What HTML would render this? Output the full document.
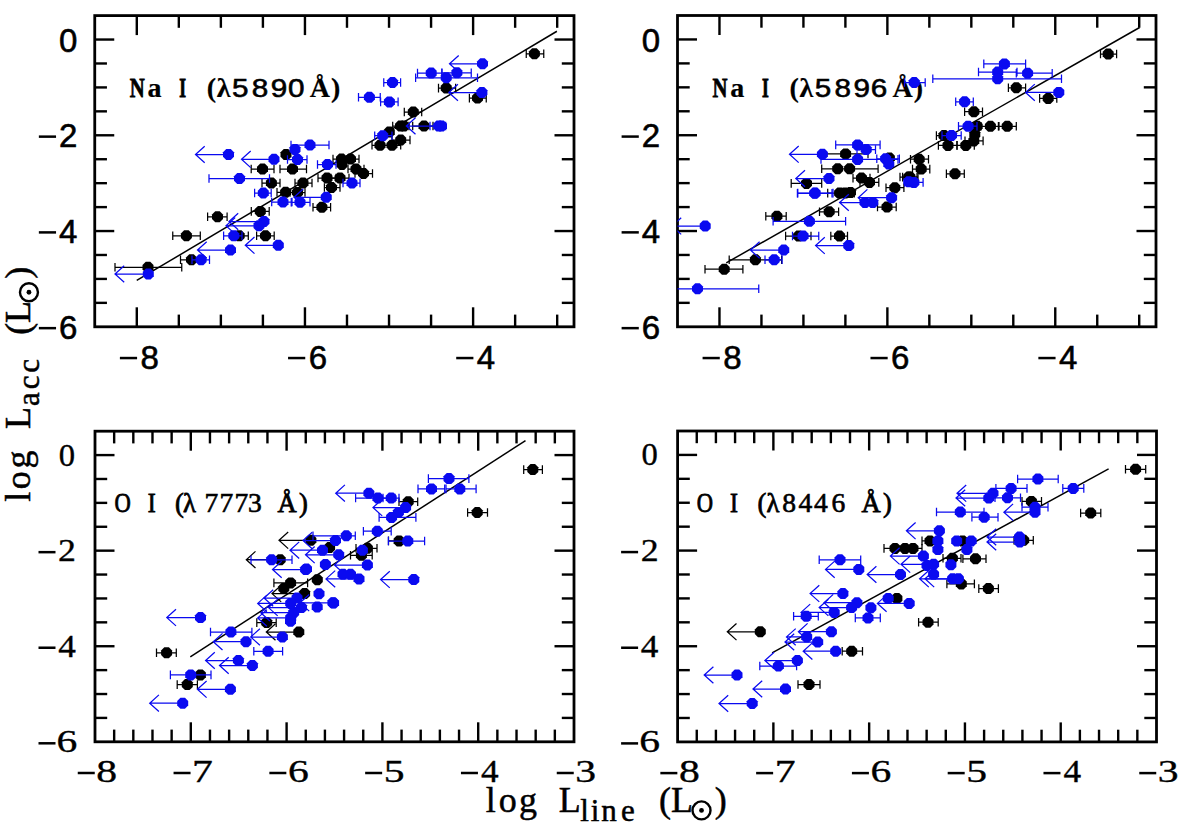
<!DOCTYPE html>
<html><head><meta charset="utf-8"><style>
html,body{margin:0;padding:0;background:#fff;}
svg{display:block;}
</style></head><body>
<svg width="1200" height="829" viewBox="0 0 1200 829">
<rect width="1200" height="829" fill="#fff"/>
<line x1="136.79" y1="326.80" x2="136.79" y2="307.30" stroke="#000" stroke-width="2.4"/>
<line x1="136.79" y1="15.60" x2="136.79" y2="35.10" stroke="#000" stroke-width="2.4"/>
<line x1="178.83" y1="326.80" x2="178.83" y2="314.60" stroke="#000" stroke-width="2.4"/>
<line x1="178.83" y1="15.60" x2="178.83" y2="27.80" stroke="#000" stroke-width="2.4"/>
<line x1="220.87" y1="326.80" x2="220.87" y2="314.60" stroke="#000" stroke-width="2.4"/>
<line x1="220.87" y1="15.60" x2="220.87" y2="27.80" stroke="#000" stroke-width="2.4"/>
<line x1="262.91" y1="326.80" x2="262.91" y2="314.60" stroke="#000" stroke-width="2.4"/>
<line x1="262.91" y1="15.60" x2="262.91" y2="27.80" stroke="#000" stroke-width="2.4"/>
<line x1="304.95" y1="326.80" x2="304.95" y2="307.30" stroke="#000" stroke-width="2.4"/>
<line x1="304.95" y1="15.60" x2="304.95" y2="35.10" stroke="#000" stroke-width="2.4"/>
<line x1="346.99" y1="326.80" x2="346.99" y2="314.60" stroke="#000" stroke-width="2.4"/>
<line x1="346.99" y1="15.60" x2="346.99" y2="27.80" stroke="#000" stroke-width="2.4"/>
<line x1="389.03" y1="326.80" x2="389.03" y2="314.60" stroke="#000" stroke-width="2.4"/>
<line x1="389.03" y1="15.60" x2="389.03" y2="27.80" stroke="#000" stroke-width="2.4"/>
<line x1="431.07" y1="326.80" x2="431.07" y2="314.60" stroke="#000" stroke-width="2.4"/>
<line x1="431.07" y1="15.60" x2="431.07" y2="27.80" stroke="#000" stroke-width="2.4"/>
<line x1="473.11" y1="326.80" x2="473.11" y2="307.30" stroke="#000" stroke-width="2.4"/>
<line x1="473.11" y1="15.60" x2="473.11" y2="35.10" stroke="#000" stroke-width="2.4"/>
<line x1="515.14" y1="326.80" x2="515.14" y2="314.60" stroke="#000" stroke-width="2.4"/>
<line x1="515.14" y1="15.60" x2="515.14" y2="27.80" stroke="#000" stroke-width="2.4"/>
<line x1="557.18" y1="326.80" x2="557.18" y2="314.60" stroke="#000" stroke-width="2.4"/>
<line x1="557.18" y1="15.60" x2="557.18" y2="27.80" stroke="#000" stroke-width="2.4"/>
<line x1="94.75" y1="39.54" x2="114.25" y2="39.54" stroke="#000" stroke-width="2.4"/>
<line x1="574.00" y1="39.54" x2="554.50" y2="39.54" stroke="#000" stroke-width="2.4"/>
<line x1="94.75" y1="63.48" x2="106.95" y2="63.48" stroke="#000" stroke-width="2.4"/>
<line x1="574.00" y1="63.48" x2="561.80" y2="63.48" stroke="#000" stroke-width="2.4"/>
<line x1="94.75" y1="87.42" x2="106.95" y2="87.42" stroke="#000" stroke-width="2.4"/>
<line x1="574.00" y1="87.42" x2="561.80" y2="87.42" stroke="#000" stroke-width="2.4"/>
<line x1="94.75" y1="111.35" x2="106.95" y2="111.35" stroke="#000" stroke-width="2.4"/>
<line x1="574.00" y1="111.35" x2="561.80" y2="111.35" stroke="#000" stroke-width="2.4"/>
<line x1="94.75" y1="135.29" x2="114.25" y2="135.29" stroke="#000" stroke-width="2.4"/>
<line x1="574.00" y1="135.29" x2="554.50" y2="135.29" stroke="#000" stroke-width="2.4"/>
<line x1="94.75" y1="159.23" x2="106.95" y2="159.23" stroke="#000" stroke-width="2.4"/>
<line x1="574.00" y1="159.23" x2="561.80" y2="159.23" stroke="#000" stroke-width="2.4"/>
<line x1="94.75" y1="183.17" x2="106.95" y2="183.17" stroke="#000" stroke-width="2.4"/>
<line x1="574.00" y1="183.17" x2="561.80" y2="183.17" stroke="#000" stroke-width="2.4"/>
<line x1="94.75" y1="207.11" x2="106.95" y2="207.11" stroke="#000" stroke-width="2.4"/>
<line x1="574.00" y1="207.11" x2="561.80" y2="207.11" stroke="#000" stroke-width="2.4"/>
<line x1="94.75" y1="231.05" x2="114.25" y2="231.05" stroke="#000" stroke-width="2.4"/>
<line x1="574.00" y1="231.05" x2="554.50" y2="231.05" stroke="#000" stroke-width="2.4"/>
<line x1="94.75" y1="254.98" x2="106.95" y2="254.98" stroke="#000" stroke-width="2.4"/>
<line x1="574.00" y1="254.98" x2="561.80" y2="254.98" stroke="#000" stroke-width="2.4"/>
<line x1="94.75" y1="278.92" x2="106.95" y2="278.92" stroke="#000" stroke-width="2.4"/>
<line x1="574.00" y1="278.92" x2="561.80" y2="278.92" stroke="#000" stroke-width="2.4"/>
<line x1="94.75" y1="302.86" x2="106.95" y2="302.86" stroke="#000" stroke-width="2.4"/>
<line x1="574.00" y1="302.86" x2="561.80" y2="302.86" stroke="#000" stroke-width="2.4"/>
<rect x="94.75" y="15.60" width="479.25" height="311.20" fill="none" stroke="#000" stroke-width="2.8"/>
<line x1="719.47" y1="326.80" x2="719.47" y2="307.30" stroke="#000" stroke-width="2.4"/>
<line x1="719.47" y1="15.50" x2="719.47" y2="35.00" stroke="#000" stroke-width="2.4"/>
<line x1="761.45" y1="326.80" x2="761.45" y2="314.60" stroke="#000" stroke-width="2.4"/>
<line x1="761.45" y1="15.50" x2="761.45" y2="27.70" stroke="#000" stroke-width="2.4"/>
<line x1="803.42" y1="326.80" x2="803.42" y2="314.60" stroke="#000" stroke-width="2.4"/>
<line x1="803.42" y1="15.50" x2="803.42" y2="27.70" stroke="#000" stroke-width="2.4"/>
<line x1="845.39" y1="326.80" x2="845.39" y2="314.60" stroke="#000" stroke-width="2.4"/>
<line x1="845.39" y1="15.50" x2="845.39" y2="27.70" stroke="#000" stroke-width="2.4"/>
<line x1="887.37" y1="326.80" x2="887.37" y2="307.30" stroke="#000" stroke-width="2.4"/>
<line x1="887.37" y1="15.50" x2="887.37" y2="35.00" stroke="#000" stroke-width="2.4"/>
<line x1="929.34" y1="326.80" x2="929.34" y2="314.60" stroke="#000" stroke-width="2.4"/>
<line x1="929.34" y1="15.50" x2="929.34" y2="27.70" stroke="#000" stroke-width="2.4"/>
<line x1="971.32" y1="326.80" x2="971.32" y2="314.60" stroke="#000" stroke-width="2.4"/>
<line x1="971.32" y1="15.50" x2="971.32" y2="27.70" stroke="#000" stroke-width="2.4"/>
<line x1="1013.29" y1="326.80" x2="1013.29" y2="314.60" stroke="#000" stroke-width="2.4"/>
<line x1="1013.29" y1="15.50" x2="1013.29" y2="27.70" stroke="#000" stroke-width="2.4"/>
<line x1="1055.26" y1="326.80" x2="1055.26" y2="307.30" stroke="#000" stroke-width="2.4"/>
<line x1="1055.26" y1="15.50" x2="1055.26" y2="35.00" stroke="#000" stroke-width="2.4"/>
<line x1="1097.24" y1="326.80" x2="1097.24" y2="314.60" stroke="#000" stroke-width="2.4"/>
<line x1="1097.24" y1="15.50" x2="1097.24" y2="27.70" stroke="#000" stroke-width="2.4"/>
<line x1="1139.21" y1="326.80" x2="1139.21" y2="314.60" stroke="#000" stroke-width="2.4"/>
<line x1="1139.21" y1="15.50" x2="1139.21" y2="27.70" stroke="#000" stroke-width="2.4"/>
<line x1="677.50" y1="39.45" x2="697.00" y2="39.45" stroke="#000" stroke-width="2.4"/>
<line x1="1156.00" y1="39.45" x2="1136.50" y2="39.45" stroke="#000" stroke-width="2.4"/>
<line x1="677.50" y1="63.39" x2="689.70" y2="63.39" stroke="#000" stroke-width="2.4"/>
<line x1="1156.00" y1="63.39" x2="1143.80" y2="63.39" stroke="#000" stroke-width="2.4"/>
<line x1="677.50" y1="87.34" x2="689.70" y2="87.34" stroke="#000" stroke-width="2.4"/>
<line x1="1156.00" y1="87.34" x2="1143.80" y2="87.34" stroke="#000" stroke-width="2.4"/>
<line x1="677.50" y1="111.28" x2="689.70" y2="111.28" stroke="#000" stroke-width="2.4"/>
<line x1="1156.00" y1="111.28" x2="1143.80" y2="111.28" stroke="#000" stroke-width="2.4"/>
<line x1="677.50" y1="135.23" x2="697.00" y2="135.23" stroke="#000" stroke-width="2.4"/>
<line x1="1156.00" y1="135.23" x2="1136.50" y2="135.23" stroke="#000" stroke-width="2.4"/>
<line x1="677.50" y1="159.18" x2="689.70" y2="159.18" stroke="#000" stroke-width="2.4"/>
<line x1="1156.00" y1="159.18" x2="1143.80" y2="159.18" stroke="#000" stroke-width="2.4"/>
<line x1="677.50" y1="183.12" x2="689.70" y2="183.12" stroke="#000" stroke-width="2.4"/>
<line x1="1156.00" y1="183.12" x2="1143.80" y2="183.12" stroke="#000" stroke-width="2.4"/>
<line x1="677.50" y1="207.07" x2="689.70" y2="207.07" stroke="#000" stroke-width="2.4"/>
<line x1="1156.00" y1="207.07" x2="1143.80" y2="207.07" stroke="#000" stroke-width="2.4"/>
<line x1="677.50" y1="231.02" x2="697.00" y2="231.02" stroke="#000" stroke-width="2.4"/>
<line x1="1156.00" y1="231.02" x2="1136.50" y2="231.02" stroke="#000" stroke-width="2.4"/>
<line x1="677.50" y1="254.96" x2="689.70" y2="254.96" stroke="#000" stroke-width="2.4"/>
<line x1="1156.00" y1="254.96" x2="1143.80" y2="254.96" stroke="#000" stroke-width="2.4"/>
<line x1="677.50" y1="278.91" x2="689.70" y2="278.91" stroke="#000" stroke-width="2.4"/>
<line x1="1156.00" y1="278.91" x2="1143.80" y2="278.91" stroke="#000" stroke-width="2.4"/>
<line x1="677.50" y1="302.85" x2="689.70" y2="302.85" stroke="#000" stroke-width="2.4"/>
<line x1="1156.00" y1="302.85" x2="1143.80" y2="302.85" stroke="#000" stroke-width="2.4"/>
<rect x="677.50" y="15.50" width="478.50" height="311.30" fill="none" stroke="#000" stroke-width="2.8"/>
<line x1="114.16" y1="741.80" x2="114.16" y2="729.60" stroke="#000" stroke-width="2.4"/>
<line x1="114.16" y1="431.20" x2="114.16" y2="443.40" stroke="#000" stroke-width="2.4"/>
<line x1="133.32" y1="741.80" x2="133.32" y2="729.60" stroke="#000" stroke-width="2.4"/>
<line x1="133.32" y1="431.20" x2="133.32" y2="443.40" stroke="#000" stroke-width="2.4"/>
<line x1="152.48" y1="741.80" x2="152.48" y2="729.60" stroke="#000" stroke-width="2.4"/>
<line x1="152.48" y1="431.20" x2="152.48" y2="443.40" stroke="#000" stroke-width="2.4"/>
<line x1="171.64" y1="741.80" x2="171.64" y2="729.60" stroke="#000" stroke-width="2.4"/>
<line x1="171.64" y1="431.20" x2="171.64" y2="443.40" stroke="#000" stroke-width="2.4"/>
<line x1="190.80" y1="741.80" x2="190.80" y2="722.30" stroke="#000" stroke-width="2.4"/>
<line x1="190.80" y1="431.20" x2="190.80" y2="450.70" stroke="#000" stroke-width="2.4"/>
<line x1="209.96" y1="741.80" x2="209.96" y2="729.60" stroke="#000" stroke-width="2.4"/>
<line x1="209.96" y1="431.20" x2="209.96" y2="443.40" stroke="#000" stroke-width="2.4"/>
<line x1="229.12" y1="741.80" x2="229.12" y2="729.60" stroke="#000" stroke-width="2.4"/>
<line x1="229.12" y1="431.20" x2="229.12" y2="443.40" stroke="#000" stroke-width="2.4"/>
<line x1="248.28" y1="741.80" x2="248.28" y2="729.60" stroke="#000" stroke-width="2.4"/>
<line x1="248.28" y1="431.20" x2="248.28" y2="443.40" stroke="#000" stroke-width="2.4"/>
<line x1="267.44" y1="741.80" x2="267.44" y2="729.60" stroke="#000" stroke-width="2.4"/>
<line x1="267.44" y1="431.20" x2="267.44" y2="443.40" stroke="#000" stroke-width="2.4"/>
<line x1="286.60" y1="741.80" x2="286.60" y2="722.30" stroke="#000" stroke-width="2.4"/>
<line x1="286.60" y1="431.20" x2="286.60" y2="450.70" stroke="#000" stroke-width="2.4"/>
<line x1="305.76" y1="741.80" x2="305.76" y2="729.60" stroke="#000" stroke-width="2.4"/>
<line x1="305.76" y1="431.20" x2="305.76" y2="443.40" stroke="#000" stroke-width="2.4"/>
<line x1="324.92" y1="741.80" x2="324.92" y2="729.60" stroke="#000" stroke-width="2.4"/>
<line x1="324.92" y1="431.20" x2="324.92" y2="443.40" stroke="#000" stroke-width="2.4"/>
<line x1="344.08" y1="741.80" x2="344.08" y2="729.60" stroke="#000" stroke-width="2.4"/>
<line x1="344.08" y1="431.20" x2="344.08" y2="443.40" stroke="#000" stroke-width="2.4"/>
<line x1="363.24" y1="741.80" x2="363.24" y2="729.60" stroke="#000" stroke-width="2.4"/>
<line x1="363.24" y1="431.20" x2="363.24" y2="443.40" stroke="#000" stroke-width="2.4"/>
<line x1="382.40" y1="741.80" x2="382.40" y2="722.30" stroke="#000" stroke-width="2.4"/>
<line x1="382.40" y1="431.20" x2="382.40" y2="450.70" stroke="#000" stroke-width="2.4"/>
<line x1="401.56" y1="741.80" x2="401.56" y2="729.60" stroke="#000" stroke-width="2.4"/>
<line x1="401.56" y1="431.20" x2="401.56" y2="443.40" stroke="#000" stroke-width="2.4"/>
<line x1="420.72" y1="741.80" x2="420.72" y2="729.60" stroke="#000" stroke-width="2.4"/>
<line x1="420.72" y1="431.20" x2="420.72" y2="443.40" stroke="#000" stroke-width="2.4"/>
<line x1="439.88" y1="741.80" x2="439.88" y2="729.60" stroke="#000" stroke-width="2.4"/>
<line x1="439.88" y1="431.20" x2="439.88" y2="443.40" stroke="#000" stroke-width="2.4"/>
<line x1="459.04" y1="741.80" x2="459.04" y2="729.60" stroke="#000" stroke-width="2.4"/>
<line x1="459.04" y1="431.20" x2="459.04" y2="443.40" stroke="#000" stroke-width="2.4"/>
<line x1="478.20" y1="741.80" x2="478.20" y2="722.30" stroke="#000" stroke-width="2.4"/>
<line x1="478.20" y1="431.20" x2="478.20" y2="450.70" stroke="#000" stroke-width="2.4"/>
<line x1="497.36" y1="741.80" x2="497.36" y2="729.60" stroke="#000" stroke-width="2.4"/>
<line x1="497.36" y1="431.20" x2="497.36" y2="443.40" stroke="#000" stroke-width="2.4"/>
<line x1="516.52" y1="741.80" x2="516.52" y2="729.60" stroke="#000" stroke-width="2.4"/>
<line x1="516.52" y1="431.20" x2="516.52" y2="443.40" stroke="#000" stroke-width="2.4"/>
<line x1="535.68" y1="741.80" x2="535.68" y2="729.60" stroke="#000" stroke-width="2.4"/>
<line x1="535.68" y1="431.20" x2="535.68" y2="443.40" stroke="#000" stroke-width="2.4"/>
<line x1="554.84" y1="741.80" x2="554.84" y2="729.60" stroke="#000" stroke-width="2.4"/>
<line x1="554.84" y1="431.20" x2="554.84" y2="443.40" stroke="#000" stroke-width="2.4"/>
<line x1="95.00" y1="455.09" x2="114.50" y2="455.09" stroke="#000" stroke-width="2.4"/>
<line x1="574.00" y1="455.09" x2="554.50" y2="455.09" stroke="#000" stroke-width="2.4"/>
<line x1="95.00" y1="478.98" x2="107.20" y2="478.98" stroke="#000" stroke-width="2.4"/>
<line x1="574.00" y1="478.98" x2="561.80" y2="478.98" stroke="#000" stroke-width="2.4"/>
<line x1="95.00" y1="502.88" x2="107.20" y2="502.88" stroke="#000" stroke-width="2.4"/>
<line x1="574.00" y1="502.88" x2="561.80" y2="502.88" stroke="#000" stroke-width="2.4"/>
<line x1="95.00" y1="526.77" x2="107.20" y2="526.77" stroke="#000" stroke-width="2.4"/>
<line x1="574.00" y1="526.77" x2="561.80" y2="526.77" stroke="#000" stroke-width="2.4"/>
<line x1="95.00" y1="550.66" x2="114.50" y2="550.66" stroke="#000" stroke-width="2.4"/>
<line x1="574.00" y1="550.66" x2="554.50" y2="550.66" stroke="#000" stroke-width="2.4"/>
<line x1="95.00" y1="574.55" x2="107.20" y2="574.55" stroke="#000" stroke-width="2.4"/>
<line x1="574.00" y1="574.55" x2="561.80" y2="574.55" stroke="#000" stroke-width="2.4"/>
<line x1="95.00" y1="598.45" x2="107.20" y2="598.45" stroke="#000" stroke-width="2.4"/>
<line x1="574.00" y1="598.45" x2="561.80" y2="598.45" stroke="#000" stroke-width="2.4"/>
<line x1="95.00" y1="622.34" x2="107.20" y2="622.34" stroke="#000" stroke-width="2.4"/>
<line x1="574.00" y1="622.34" x2="561.80" y2="622.34" stroke="#000" stroke-width="2.4"/>
<line x1="95.00" y1="646.23" x2="114.50" y2="646.23" stroke="#000" stroke-width="2.4"/>
<line x1="574.00" y1="646.23" x2="554.50" y2="646.23" stroke="#000" stroke-width="2.4"/>
<line x1="95.00" y1="670.12" x2="107.20" y2="670.12" stroke="#000" stroke-width="2.4"/>
<line x1="574.00" y1="670.12" x2="561.80" y2="670.12" stroke="#000" stroke-width="2.4"/>
<line x1="95.00" y1="694.02" x2="107.20" y2="694.02" stroke="#000" stroke-width="2.4"/>
<line x1="574.00" y1="694.02" x2="561.80" y2="694.02" stroke="#000" stroke-width="2.4"/>
<line x1="95.00" y1="717.91" x2="107.20" y2="717.91" stroke="#000" stroke-width="2.4"/>
<line x1="574.00" y1="717.91" x2="561.80" y2="717.91" stroke="#000" stroke-width="2.4"/>
<rect x="95.00" y="431.20" width="479.00" height="310.60" fill="none" stroke="#000" stroke-width="2.8"/>
<line x1="696.76" y1="741.90" x2="696.76" y2="729.70" stroke="#000" stroke-width="2.4"/>
<line x1="696.76" y1="431.00" x2="696.76" y2="443.20" stroke="#000" stroke-width="2.4"/>
<line x1="715.91" y1="741.90" x2="715.91" y2="729.70" stroke="#000" stroke-width="2.4"/>
<line x1="715.91" y1="431.00" x2="715.91" y2="443.20" stroke="#000" stroke-width="2.4"/>
<line x1="735.07" y1="741.90" x2="735.07" y2="729.70" stroke="#000" stroke-width="2.4"/>
<line x1="735.07" y1="431.00" x2="735.07" y2="443.20" stroke="#000" stroke-width="2.4"/>
<line x1="754.22" y1="741.90" x2="754.22" y2="729.70" stroke="#000" stroke-width="2.4"/>
<line x1="754.22" y1="431.00" x2="754.22" y2="443.20" stroke="#000" stroke-width="2.4"/>
<line x1="773.38" y1="741.90" x2="773.38" y2="722.40" stroke="#000" stroke-width="2.4"/>
<line x1="773.38" y1="431.00" x2="773.38" y2="450.50" stroke="#000" stroke-width="2.4"/>
<line x1="792.54" y1="741.90" x2="792.54" y2="729.70" stroke="#000" stroke-width="2.4"/>
<line x1="792.54" y1="431.00" x2="792.54" y2="443.20" stroke="#000" stroke-width="2.4"/>
<line x1="811.69" y1="741.90" x2="811.69" y2="729.70" stroke="#000" stroke-width="2.4"/>
<line x1="811.69" y1="431.00" x2="811.69" y2="443.20" stroke="#000" stroke-width="2.4"/>
<line x1="830.85" y1="741.90" x2="830.85" y2="729.70" stroke="#000" stroke-width="2.4"/>
<line x1="830.85" y1="431.00" x2="830.85" y2="443.20" stroke="#000" stroke-width="2.4"/>
<line x1="850.00" y1="741.90" x2="850.00" y2="729.70" stroke="#000" stroke-width="2.4"/>
<line x1="850.00" y1="431.00" x2="850.00" y2="443.20" stroke="#000" stroke-width="2.4"/>
<line x1="869.16" y1="741.90" x2="869.16" y2="722.40" stroke="#000" stroke-width="2.4"/>
<line x1="869.16" y1="431.00" x2="869.16" y2="450.50" stroke="#000" stroke-width="2.4"/>
<line x1="888.32" y1="741.90" x2="888.32" y2="729.70" stroke="#000" stroke-width="2.4"/>
<line x1="888.32" y1="431.00" x2="888.32" y2="443.20" stroke="#000" stroke-width="2.4"/>
<line x1="907.47" y1="741.90" x2="907.47" y2="729.70" stroke="#000" stroke-width="2.4"/>
<line x1="907.47" y1="431.00" x2="907.47" y2="443.20" stroke="#000" stroke-width="2.4"/>
<line x1="926.63" y1="741.90" x2="926.63" y2="729.70" stroke="#000" stroke-width="2.4"/>
<line x1="926.63" y1="431.00" x2="926.63" y2="443.20" stroke="#000" stroke-width="2.4"/>
<line x1="945.78" y1="741.90" x2="945.78" y2="729.70" stroke="#000" stroke-width="2.4"/>
<line x1="945.78" y1="431.00" x2="945.78" y2="443.20" stroke="#000" stroke-width="2.4"/>
<line x1="964.94" y1="741.90" x2="964.94" y2="722.40" stroke="#000" stroke-width="2.4"/>
<line x1="964.94" y1="431.00" x2="964.94" y2="450.50" stroke="#000" stroke-width="2.4"/>
<line x1="984.10" y1="741.90" x2="984.10" y2="729.70" stroke="#000" stroke-width="2.4"/>
<line x1="984.10" y1="431.00" x2="984.10" y2="443.20" stroke="#000" stroke-width="2.4"/>
<line x1="1003.25" y1="741.90" x2="1003.25" y2="729.70" stroke="#000" stroke-width="2.4"/>
<line x1="1003.25" y1="431.00" x2="1003.25" y2="443.20" stroke="#000" stroke-width="2.4"/>
<line x1="1022.41" y1="741.90" x2="1022.41" y2="729.70" stroke="#000" stroke-width="2.4"/>
<line x1="1022.41" y1="431.00" x2="1022.41" y2="443.20" stroke="#000" stroke-width="2.4"/>
<line x1="1041.56" y1="741.90" x2="1041.56" y2="729.70" stroke="#000" stroke-width="2.4"/>
<line x1="1041.56" y1="431.00" x2="1041.56" y2="443.20" stroke="#000" stroke-width="2.4"/>
<line x1="1060.72" y1="741.90" x2="1060.72" y2="722.40" stroke="#000" stroke-width="2.4"/>
<line x1="1060.72" y1="431.00" x2="1060.72" y2="450.50" stroke="#000" stroke-width="2.4"/>
<line x1="1079.88" y1="741.90" x2="1079.88" y2="729.70" stroke="#000" stroke-width="2.4"/>
<line x1="1079.88" y1="431.00" x2="1079.88" y2="443.20" stroke="#000" stroke-width="2.4"/>
<line x1="1099.03" y1="741.90" x2="1099.03" y2="729.70" stroke="#000" stroke-width="2.4"/>
<line x1="1099.03" y1="431.00" x2="1099.03" y2="443.20" stroke="#000" stroke-width="2.4"/>
<line x1="1118.19" y1="741.90" x2="1118.19" y2="729.70" stroke="#000" stroke-width="2.4"/>
<line x1="1118.19" y1="431.00" x2="1118.19" y2="443.20" stroke="#000" stroke-width="2.4"/>
<line x1="1137.34" y1="741.90" x2="1137.34" y2="729.70" stroke="#000" stroke-width="2.4"/>
<line x1="1137.34" y1="431.00" x2="1137.34" y2="443.20" stroke="#000" stroke-width="2.4"/>
<line x1="677.60" y1="454.92" x2="697.10" y2="454.92" stroke="#000" stroke-width="2.4"/>
<line x1="1156.50" y1="454.92" x2="1137.00" y2="454.92" stroke="#000" stroke-width="2.4"/>
<line x1="677.60" y1="478.83" x2="689.80" y2="478.83" stroke="#000" stroke-width="2.4"/>
<line x1="1156.50" y1="478.83" x2="1144.30" y2="478.83" stroke="#000" stroke-width="2.4"/>
<line x1="677.60" y1="502.75" x2="689.80" y2="502.75" stroke="#000" stroke-width="2.4"/>
<line x1="1156.50" y1="502.75" x2="1144.30" y2="502.75" stroke="#000" stroke-width="2.4"/>
<line x1="677.60" y1="526.66" x2="689.80" y2="526.66" stroke="#000" stroke-width="2.4"/>
<line x1="1156.50" y1="526.66" x2="1144.30" y2="526.66" stroke="#000" stroke-width="2.4"/>
<line x1="677.60" y1="550.58" x2="697.10" y2="550.58" stroke="#000" stroke-width="2.4"/>
<line x1="1156.50" y1="550.58" x2="1137.00" y2="550.58" stroke="#000" stroke-width="2.4"/>
<line x1="677.60" y1="574.49" x2="689.80" y2="574.49" stroke="#000" stroke-width="2.4"/>
<line x1="1156.50" y1="574.49" x2="1144.30" y2="574.49" stroke="#000" stroke-width="2.4"/>
<line x1="677.60" y1="598.41" x2="689.80" y2="598.41" stroke="#000" stroke-width="2.4"/>
<line x1="1156.50" y1="598.41" x2="1144.30" y2="598.41" stroke="#000" stroke-width="2.4"/>
<line x1="677.60" y1="622.32" x2="689.80" y2="622.32" stroke="#000" stroke-width="2.4"/>
<line x1="1156.50" y1="622.32" x2="1144.30" y2="622.32" stroke="#000" stroke-width="2.4"/>
<line x1="677.60" y1="646.24" x2="697.10" y2="646.24" stroke="#000" stroke-width="2.4"/>
<line x1="1156.50" y1="646.24" x2="1137.00" y2="646.24" stroke="#000" stroke-width="2.4"/>
<line x1="677.60" y1="670.15" x2="689.80" y2="670.15" stroke="#000" stroke-width="2.4"/>
<line x1="1156.50" y1="670.15" x2="1144.30" y2="670.15" stroke="#000" stroke-width="2.4"/>
<line x1="677.60" y1="694.07" x2="689.80" y2="694.07" stroke="#000" stroke-width="2.4"/>
<line x1="1156.50" y1="694.07" x2="1144.30" y2="694.07" stroke="#000" stroke-width="2.4"/>
<line x1="677.60" y1="717.98" x2="689.80" y2="717.98" stroke="#000" stroke-width="2.4"/>
<line x1="1156.50" y1="717.98" x2="1144.30" y2="717.98" stroke="#000" stroke-width="2.4"/>
<rect x="677.60" y="431.00" width="478.90" height="310.90" fill="none" stroke="#000" stroke-width="2.8"/>
<text transform="translate(68.15,51.74) scale(1.0,1)" text-anchor="middle" font-family='"Liberation Sans", sans-serif' font-size="33" stroke="#000" stroke-width="0.6">0</text>
<text transform="translate(68.15,147.49) scale(1.0,1)" text-anchor="middle" font-family='"Liberation Sans", sans-serif' font-size="33" stroke="#000" stroke-width="0.6">2</text>
<line x1="38.85" y1="136.64" x2="56.05" y2="136.64" stroke="#000" stroke-width="2.5"/>
<text transform="translate(68.15,243.25) scale(1.0,1)" text-anchor="middle" font-family='"Liberation Sans", sans-serif' font-size="33" stroke="#000" stroke-width="0.6">4</text>
<line x1="38.85" y1="232.40" x2="56.05" y2="232.40" stroke="#000" stroke-width="2.5"/>
<text transform="translate(68.15,339.00) scale(1.0,1)" text-anchor="middle" font-family='"Liberation Sans", sans-serif' font-size="33" stroke="#000" stroke-width="0.6">6</text>
<line x1="38.85" y1="328.15" x2="56.05" y2="328.15" stroke="#000" stroke-width="2.5"/>
<text transform="translate(149.64,368.90) scale(1.0,1)" text-anchor="middle" font-family='"Liberation Sans", sans-serif' font-size="33" stroke="#000" stroke-width="0.6">8</text>
<line x1="119.89" y1="358.05" x2="137.09" y2="358.05" stroke="#000" stroke-width="2.5"/>
<text transform="translate(317.80,368.90) scale(1.0,1)" text-anchor="middle" font-family='"Liberation Sans", sans-serif' font-size="33" stroke="#000" stroke-width="0.6">6</text>
<line x1="288.05" y1="358.05" x2="305.25" y2="358.05" stroke="#000" stroke-width="2.5"/>
<text transform="translate(485.96,368.90) scale(1.0,1)" text-anchor="middle" font-family='"Liberation Sans", sans-serif' font-size="33" stroke="#000" stroke-width="0.6">4</text>
<line x1="456.21" y1="358.05" x2="473.41" y2="358.05" stroke="#000" stroke-width="2.5"/>
<text transform="translate(650.90,51.65) scale(1.0,1)" text-anchor="middle" font-family='"Liberation Sans", sans-serif' font-size="33" stroke="#000" stroke-width="0.6">0</text>
<text transform="translate(650.90,147.43) scale(1.0,1)" text-anchor="middle" font-family='"Liberation Sans", sans-serif' font-size="33" stroke="#000" stroke-width="0.6">2</text>
<line x1="621.60" y1="136.58" x2="638.80" y2="136.58" stroke="#000" stroke-width="2.5"/>
<text transform="translate(650.90,243.22) scale(1.0,1)" text-anchor="middle" font-family='"Liberation Sans", sans-serif' font-size="33" stroke="#000" stroke-width="0.6">4</text>
<line x1="621.60" y1="232.37" x2="638.80" y2="232.37" stroke="#000" stroke-width="2.5"/>
<text transform="translate(650.90,339.00) scale(1.0,1)" text-anchor="middle" font-family='"Liberation Sans", sans-serif' font-size="33" stroke="#000" stroke-width="0.6">6</text>
<line x1="621.60" y1="328.15" x2="638.80" y2="328.15" stroke="#000" stroke-width="2.5"/>
<text transform="translate(732.32,368.90) scale(1.0,1)" text-anchor="middle" font-family='"Liberation Sans", sans-serif' font-size="33" stroke="#000" stroke-width="0.6">8</text>
<line x1="702.57" y1="358.05" x2="719.77" y2="358.05" stroke="#000" stroke-width="2.5"/>
<text transform="translate(900.22,368.90) scale(1.0,1)" text-anchor="middle" font-family='"Liberation Sans", sans-serif' font-size="33" stroke="#000" stroke-width="0.6">6</text>
<line x1="870.47" y1="358.05" x2="887.67" y2="358.05" stroke="#000" stroke-width="2.5"/>
<text transform="translate(1068.11,368.90) scale(1.0,1)" text-anchor="middle" font-family='"Liberation Sans", sans-serif' font-size="33" stroke="#000" stroke-width="0.6">4</text>
<line x1="1038.36" y1="358.05" x2="1055.56" y2="358.05" stroke="#000" stroke-width="2.5"/>
<text transform="translate(67.00,465.59) scale(1.02,1)" text-anchor="middle" font-family='"Liberation Serif", serif' font-size="32" stroke="#000" stroke-width="0.35">0</text>
<text transform="translate(67.00,561.16) scale(1.12,1)" text-anchor="middle" font-family='"Liberation Serif", serif' font-size="32" stroke="#000" stroke-width="0.35">2</text>
<line x1="38.50" y1="552.16" x2="55.50" y2="552.16" stroke="#000" stroke-width="2.5"/>
<text transform="translate(67.00,656.73) scale(1.1,1)" text-anchor="middle" font-family='"Liberation Serif", serif' font-size="32" stroke="#000" stroke-width="0.35">4</text>
<line x1="38.50" y1="647.73" x2="55.50" y2="647.73" stroke="#000" stroke-width="2.5"/>
<text transform="translate(67.00,752.30) scale(1.3,1)" text-anchor="middle" font-family='"Liberation Serif", serif' font-size="32" stroke="#000" stroke-width="0.35">6</text>
<line x1="38.50" y1="743.30" x2="55.50" y2="743.30" stroke="#000" stroke-width="2.5"/>
<text transform="translate(106.70,782.00) scale(1.3,1)" text-anchor="middle" font-family='"Liberation Serif", serif' font-size="32" stroke="#000" stroke-width="0.35">8</text>
<line x1="77.75" y1="773.00" x2="94.75" y2="773.00" stroke="#000" stroke-width="2.5"/>
<text transform="translate(202.50,782.00) scale(1.3,1)" text-anchor="middle" font-family='"Liberation Serif", serif' font-size="32" stroke="#000" stroke-width="0.35">7</text>
<line x1="173.55" y1="773.00" x2="190.55" y2="773.00" stroke="#000" stroke-width="2.5"/>
<text transform="translate(298.30,782.00) scale(1.3,1)" text-anchor="middle" font-family='"Liberation Serif", serif' font-size="32" stroke="#000" stroke-width="0.35">6</text>
<line x1="269.35" y1="773.00" x2="286.35" y2="773.00" stroke="#000" stroke-width="2.5"/>
<text transform="translate(394.10,782.00) scale(1.3,1)" text-anchor="middle" font-family='"Liberation Serif", serif' font-size="32" stroke="#000" stroke-width="0.35">5</text>
<line x1="365.15" y1="773.00" x2="382.15" y2="773.00" stroke="#000" stroke-width="2.5"/>
<text transform="translate(489.90,782.00) scale(1.1,1)" text-anchor="middle" font-family='"Liberation Serif", serif' font-size="32" stroke="#000" stroke-width="0.35">4</text>
<line x1="460.95" y1="773.00" x2="477.95" y2="773.00" stroke="#000" stroke-width="2.5"/>
<text transform="translate(585.70,782.00) scale(1.3,1)" text-anchor="middle" font-family='"Liberation Serif", serif' font-size="32" stroke="#000" stroke-width="0.35">3</text>
<line x1="556.75" y1="773.00" x2="573.75" y2="773.00" stroke="#000" stroke-width="2.5"/>
<text transform="translate(649.60,465.42) scale(1.02,1)" text-anchor="middle" font-family='"Liberation Serif", serif' font-size="32" stroke="#000" stroke-width="0.35">0</text>
<text transform="translate(649.60,561.08) scale(1.12,1)" text-anchor="middle" font-family='"Liberation Serif", serif' font-size="32" stroke="#000" stroke-width="0.35">2</text>
<line x1="621.10" y1="552.08" x2="638.10" y2="552.08" stroke="#000" stroke-width="2.5"/>
<text transform="translate(649.60,656.74) scale(1.1,1)" text-anchor="middle" font-family='"Liberation Serif", serif' font-size="32" stroke="#000" stroke-width="0.35">4</text>
<line x1="621.10" y1="647.74" x2="638.10" y2="647.74" stroke="#000" stroke-width="2.5"/>
<text transform="translate(649.60,752.40) scale(1.3,1)" text-anchor="middle" font-family='"Liberation Serif", serif' font-size="32" stroke="#000" stroke-width="0.35">6</text>
<line x1="621.10" y1="743.40" x2="638.10" y2="743.40" stroke="#000" stroke-width="2.5"/>
<text transform="translate(689.30,782.10) scale(1.3,1)" text-anchor="middle" font-family='"Liberation Serif", serif' font-size="32" stroke="#000" stroke-width="0.35">8</text>
<line x1="660.35" y1="773.10" x2="677.35" y2="773.10" stroke="#000" stroke-width="2.5"/>
<text transform="translate(785.08,782.10) scale(1.3,1)" text-anchor="middle" font-family='"Liberation Serif", serif' font-size="32" stroke="#000" stroke-width="0.35">7</text>
<line x1="756.13" y1="773.10" x2="773.13" y2="773.10" stroke="#000" stroke-width="2.5"/>
<text transform="translate(880.86,782.10) scale(1.3,1)" text-anchor="middle" font-family='"Liberation Serif", serif' font-size="32" stroke="#000" stroke-width="0.35">6</text>
<line x1="851.91" y1="773.10" x2="868.91" y2="773.10" stroke="#000" stroke-width="2.5"/>
<text transform="translate(976.64,782.10) scale(1.3,1)" text-anchor="middle" font-family='"Liberation Serif", serif' font-size="32" stroke="#000" stroke-width="0.35">5</text>
<line x1="947.69" y1="773.10" x2="964.69" y2="773.10" stroke="#000" stroke-width="2.5"/>
<text transform="translate(1072.42,782.10) scale(1.1,1)" text-anchor="middle" font-family='"Liberation Serif", serif' font-size="32" stroke="#000" stroke-width="0.35">4</text>
<line x1="1043.47" y1="773.10" x2="1060.47" y2="773.10" stroke="#000" stroke-width="2.5"/>
<text transform="translate(1168.20,782.10) scale(1.3,1)" text-anchor="middle" font-family='"Liberation Serif", serif' font-size="32" stroke="#000" stroke-width="0.35">3</text>
<line x1="1139.25" y1="773.10" x2="1156.25" y2="773.10" stroke="#000" stroke-width="2.5"/>
<text transform="translate(137.25,96.80) scale(0.74,1)" text-anchor="middle" font-family='"Liberation Serif", serif' font-weight="bold" font-size="28" stroke="#000" stroke-width="0.8">N</text>
<text transform="translate(154.50,96.80) scale(1.0,1)" text-anchor="middle" font-family='"Liberation Serif", serif' font-weight="bold" font-size="28" stroke="#000" stroke-width="0.2">a</text>
<text transform="translate(182.75,96.80) scale(0.62,1)" text-anchor="middle" font-family='"Liberation Serif", serif' font-weight="bold" font-size="28" stroke="#000" stroke-width="1.0">I</text>
<text transform="translate(211.50,96.80) scale(1.0,1)" text-anchor="middle" font-family='"Liberation Serif", serif' font-weight="bold" font-size="28" stroke="#000" stroke-width="0.2">(</text>
<text transform="translate(223.50,96.80) scale(1.0,1)" text-anchor="middle" font-family='"Liberation Serif", serif' font-weight="bold" font-size="28" stroke="#000" stroke-width="0.2">λ</text>
<text transform="translate(240.30,96.80) scale(1.12,1)" text-anchor="middle" font-family='"Liberation Sans", sans-serif' font-weight="normal" font-size="26.5" stroke="#000" stroke-width="0.6">5</text>
<text transform="translate(259.95,96.80) scale(1.12,1)" text-anchor="middle" font-family='"Liberation Sans", sans-serif' font-weight="normal" font-size="26.5" stroke="#000" stroke-width="0.6">8</text>
<text transform="translate(279.10,96.80) scale(1.12,1)" text-anchor="middle" font-family='"Liberation Sans", sans-serif' font-weight="normal" font-size="26.5" stroke="#000" stroke-width="0.6">9</text>
<text transform="translate(296.35,96.80) scale(1.12,1)" text-anchor="middle" font-family='"Liberation Sans", sans-serif' font-weight="normal" font-size="26.5" stroke="#000" stroke-width="0.6">0</text>
<text transform="translate(319.85,96.80) scale(1.0,1)" text-anchor="middle" font-family='"Liberation Serif", serif' font-weight="bold" font-size="28" stroke="#000" stroke-width="0.2">Å</text>
<text transform="translate(335.65,96.80) scale(1.0,1)" text-anchor="middle" font-family='"Liberation Serif", serif' font-weight="bold" font-size="28" stroke="#000" stroke-width="0.2">)</text>
<text transform="translate(720.00,96.80) scale(0.74,1)" text-anchor="middle" font-family='"Liberation Serif", serif' font-weight="bold" font-size="28" stroke="#000" stroke-width="0.8">N</text>
<text transform="translate(737.25,96.80) scale(1.0,1)" text-anchor="middle" font-family='"Liberation Serif", serif' font-weight="bold" font-size="28" stroke="#000" stroke-width="0.2">a</text>
<text transform="translate(765.50,96.80) scale(0.62,1)" text-anchor="middle" font-family='"Liberation Serif", serif' font-weight="bold" font-size="28" stroke="#000" stroke-width="1.0">I</text>
<text transform="translate(794.25,96.80) scale(1.0,1)" text-anchor="middle" font-family='"Liberation Serif", serif' font-weight="bold" font-size="28" stroke="#000" stroke-width="0.2">(</text>
<text transform="translate(806.25,96.80) scale(1.0,1)" text-anchor="middle" font-family='"Liberation Serif", serif' font-weight="bold" font-size="28" stroke="#000" stroke-width="0.2">λ</text>
<text transform="translate(823.05,96.80) scale(1.12,1)" text-anchor="middle" font-family='"Liberation Sans", sans-serif' font-weight="normal" font-size="26.5" stroke="#000" stroke-width="0.6">5</text>
<text transform="translate(842.70,96.80) scale(1.12,1)" text-anchor="middle" font-family='"Liberation Sans", sans-serif' font-weight="normal" font-size="26.5" stroke="#000" stroke-width="0.6">8</text>
<text transform="translate(861.85,96.80) scale(1.12,1)" text-anchor="middle" font-family='"Liberation Sans", sans-serif' font-weight="normal" font-size="26.5" stroke="#000" stroke-width="0.6">9</text>
<text transform="translate(879.10,96.80) scale(1.12,1)" text-anchor="middle" font-family='"Liberation Sans", sans-serif' font-weight="normal" font-size="26.5" stroke="#000" stroke-width="0.6">6</text>
<text transform="translate(902.60,96.80) scale(1.0,1)" text-anchor="middle" font-family='"Liberation Serif", serif' font-weight="bold" font-size="28" stroke="#000" stroke-width="0.2">Å</text>
<text transform="translate(918.40,96.80) scale(1.0,1)" text-anchor="middle" font-family='"Liberation Serif", serif' font-weight="bold" font-size="28" stroke="#000" stroke-width="0.2">)</text>
<text transform="translate(122.70,511.60) scale(0.85,1)" text-anchor="middle" font-family='"Liberation Serif", serif' font-weight="normal" font-size="26.5" stroke="#000" stroke-width="0.8">O</text>
<text transform="translate(151.65,511.60) scale(0.9,1)" text-anchor="middle" font-family='"Liberation Serif", serif' font-weight="normal" font-size="26.5" stroke="#000" stroke-width="0.8">I</text>
<text transform="translate(179.30,511.60) scale(1.0,1)" text-anchor="middle" font-family='"Liberation Serif", serif' font-weight="normal" font-size="26.5" stroke="#000" stroke-width="0.8">(</text>
<text transform="translate(189.30,511.60) scale(1.0,1)" text-anchor="middle" font-family='"Liberation Serif", serif' font-weight="normal" font-size="26.5" stroke="#000" stroke-width="0.8">λ</text>
<text transform="translate(211.40,511.60) scale(1.04,1)" text-anchor="middle" font-family='"Liberation Serif", serif' font-weight="normal" font-size="26.5" stroke="#000" stroke-width="0.6">7</text>
<text transform="translate(226.30,511.60) scale(1.04,1)" text-anchor="middle" font-family='"Liberation Serif", serif' font-weight="normal" font-size="26.5" stroke="#000" stroke-width="0.6">7</text>
<text transform="translate(241.50,511.60) scale(1.04,1)" text-anchor="middle" font-family='"Liberation Serif", serif' font-weight="normal" font-size="26.5" stroke="#000" stroke-width="0.6">7</text>
<text transform="translate(255.00,511.60) scale(1.04,1)" text-anchor="middle" font-family='"Liberation Serif", serif' font-weight="normal" font-size="26.5" stroke="#000" stroke-width="0.6">3</text>
<text transform="translate(287.10,511.60) scale(1.0,1)" text-anchor="middle" font-family='"Liberation Serif", serif' font-weight="normal" font-size="26.5" stroke="#000" stroke-width="0.8">Å</text>
<text transform="translate(303.40,511.60) scale(1.0,1)" text-anchor="middle" font-family='"Liberation Serif", serif' font-weight="normal" font-size="26.5" stroke="#000" stroke-width="0.8">)</text>
<text transform="translate(704.80,511.60) scale(0.85,1)" text-anchor="middle" font-family='"Liberation Serif", serif' font-weight="normal" font-size="26.5" stroke="#000" stroke-width="0.8">O</text>
<text transform="translate(734.00,511.60) scale(0.9,1)" text-anchor="middle" font-family='"Liberation Serif", serif' font-weight="normal" font-size="26.5" stroke="#000" stroke-width="0.8">I</text>
<text transform="translate(761.80,511.60) scale(1.0,1)" text-anchor="middle" font-family='"Liberation Serif", serif' font-weight="normal" font-size="26.5" stroke="#000" stroke-width="0.8">(</text>
<text transform="translate(772.80,511.60) scale(1.0,1)" text-anchor="middle" font-family='"Liberation Serif", serif' font-weight="normal" font-size="26.5" stroke="#000" stroke-width="0.8">λ</text>
<text transform="translate(789.10,511.60) scale(1.04,1)" text-anchor="middle" font-family='"Liberation Serif", serif' font-weight="normal" font-size="26.5" stroke="#000" stroke-width="0.6">8</text>
<text transform="translate(805.40,511.60) scale(1.04,1)" text-anchor="middle" font-family='"Liberation Serif", serif' font-weight="normal" font-size="26.5" stroke="#000" stroke-width="0.6">4</text>
<text transform="translate(820.80,511.60) scale(1.04,1)" text-anchor="middle" font-family='"Liberation Serif", serif' font-weight="normal" font-size="26.5" stroke="#000" stroke-width="0.6">4</text>
<text transform="translate(838.50,511.60) scale(1.04,1)" text-anchor="middle" font-family='"Liberation Serif", serif' font-weight="normal" font-size="26.5" stroke="#000" stroke-width="0.6">6</text>
<text transform="translate(871.00,511.60) scale(1.0,1)" text-anchor="middle" font-family='"Liberation Serif", serif' font-weight="normal" font-size="26.5" stroke="#000" stroke-width="0.8">Å</text>
<text transform="translate(887.30,511.60) scale(1.0,1)" text-anchor="middle" font-family='"Liberation Serif", serif' font-weight="normal" font-size="26.5" stroke="#000" stroke-width="0.8">)</text>
<g transform="translate(29.8,0) rotate(-90)">
<text x="-496.70 -480.25 -459.50 -418.00" y="0.00" text-anchor="middle" font-family='"Liberation Serif", serif' font-weight="normal" font-size="36" stroke="#000" stroke-width="0.5">logL</text>
<text x="-399.20 -382.40 -365.80" y="9.20" text-anchor="middle" font-family='"Liberation Serif", serif' font-weight="normal" font-size="31" stroke="#000" stroke-width="0.5">acc</text>
<text x="-328.70 -312.00 -272.80" y="0.00" text-anchor="middle" font-family='"Liberation Serif", serif' font-weight="normal" font-size="36" stroke="#000" stroke-width="0.5">(L)</text>
</g>
<circle cx="28.95" cy="292.25" r="9.00" fill="none" stroke="#000" stroke-width="2.4"/>
<circle cx="28.95" cy="292.25" r="2.4" fill="#000"/>
<text x="490.70 507.65 528.00 569.70" y="812.00" text-anchor="middle" font-family='"Liberation Serif", serif' font-weight="normal" font-size="36" stroke="#000" stroke-width="0.5">logL</text>
<text x="584.65 595.00 609.00 628.00" y="820.70" text-anchor="middle" font-family='"Liberation Serif", serif' font-weight="normal" font-size="31" stroke="#000" stroke-width="0.5">line</text>
<text x="665.10 682.00 720.80" y="812.00" text-anchor="middle" font-family='"Liberation Serif", serif' font-weight="normal" font-size="36" stroke="#000" stroke-width="0.5">(L)</text>
<circle cx="701.50" cy="810.40" r="9.00" fill="none" stroke="#000" stroke-width="2.4"/>
<circle cx="701.50" cy="810.40" r="2.4" fill="#000"/>
<clipPath id="c1"><rect x="94.75" y="15.60" width="479.25" height="311.20"/></clipPath><g clip-path="url(#c1)">
<line x1="136.75" y1="280.45" x2="556.9" y2="31.25" stroke="#000" stroke-width="1.5"/>
<path d="M526.25 53.75H543.75M526.25 49.45V58.05M543.75 49.45V58.05" stroke="#000" stroke-width="1.25" fill="none"/>
<polygon points="539.90,56.03 536.68,59.25 532.12,59.25 528.90,56.03 528.90,51.47 532.12,48.25 536.68,48.25 539.90,51.47" fill="#000"/>
<path d="M438.50 88.10H455.60M438.50 83.80V92.40M455.60 83.80V92.40" stroke="#000" stroke-width="1.25" fill="none"/>
<polygon points="451.75,90.38 448.53,93.60 443.97,93.60 440.75,90.38 440.75,85.82 443.97,82.60 448.53,82.60 451.75,85.82" fill="#000"/>
<path d="M469.40 98.10H486.25M469.40 93.80V102.40M486.25 93.80V102.40" stroke="#000" stroke-width="1.25" fill="none"/>
<polygon points="483.00,100.38 479.78,103.60 475.22,103.60 472.00,100.38 472.00,95.82 475.22,92.60 479.78,92.60 483.00,95.82" fill="#000"/>
<path d="M404.30 112.00H421.70M404.30 107.70V116.30M421.70 107.70V116.30" stroke="#000" stroke-width="1.25" fill="none"/>
<polygon points="418.80,114.28 415.58,117.50 411.02,117.50 407.80,114.28 407.80,109.72 411.02,106.50 415.58,106.50 418.80,109.72" fill="#000"/>
<path d="M392.70 126.00H409.00M392.70 121.70V130.30M409.00 121.70V130.30" stroke="#000" stroke-width="1.25" fill="none"/>
<polygon points="406.00,128.28 402.78,131.50 398.22,131.50 395.00,128.28 395.00,123.72 398.22,120.50 402.78,120.50 406.00,123.72" fill="#000"/>
<polygon points="409.50,128.28 406.28,131.50 401.72,131.50 398.50,128.28 398.50,123.72 401.72,120.50 406.28,120.50 409.50,123.72" fill="#000"/>
<path d="M412.70 126.00H433.00M412.70 121.70V130.30M433.00 121.70V130.30" stroke="#000" stroke-width="1.25" fill="none"/>
<polygon points="429.50,128.28 426.28,131.50 421.72,131.50 418.50,128.28 418.50,123.72 421.72,120.50 426.28,120.50 429.50,123.72" fill="#000"/>
<polygon points="394.80,134.28 391.58,137.50 387.02,137.50 383.80,134.28 383.80,129.72 387.02,126.50 391.58,126.50 394.80,129.72" fill="#000"/>
<path d="M392.00 140.00H410.00M392.00 135.70V144.30M410.00 135.70V144.30" stroke="#000" stroke-width="1.25" fill="none"/>
<polygon points="406.20,142.28 402.98,145.50 398.42,145.50 395.20,142.28 395.20,137.72 398.42,134.50 402.98,134.50 406.20,137.72" fill="#000"/>
<path d="M383.00 145.30H400.70M383.00 141.00V149.60M400.70 141.00V149.60" stroke="#000" stroke-width="1.25" fill="none"/>
<polygon points="397.50,147.58 394.28,150.80 389.72,150.80 386.50,147.58 386.50,143.02 389.72,139.80 394.28,139.80 397.50,143.02" fill="#000"/>
<path d="M372.00 145.30H389.00M372.00 141.00V149.60M389.00 141.00V149.60" stroke="#000" stroke-width="1.25" fill="none"/>
<polygon points="385.50,147.58 382.28,150.80 377.72,150.80 374.50,147.58 374.50,143.02 377.72,139.80 382.28,139.80 385.50,143.02" fill="#000"/>
<polygon points="291.50,156.78 288.28,160.00 283.72,160.00 280.50,156.78 280.50,152.22 283.72,149.00 288.28,149.00 291.50,152.22" fill="#000"/>
<path d="M251.20 169.00H274.00M251.20 164.70V173.30M274.00 164.70V173.30" stroke="#000" stroke-width="1.25" fill="none"/>
<polygon points="268.00,171.28 264.78,174.50 260.22,174.50 257.00,171.28 257.00,166.72 260.22,163.50 264.78,163.50 268.00,166.72" fill="#000"/>
<path d="M280.00 169.00H306.50M280.00 164.70V173.30M306.50 164.70V173.30" stroke="#000" stroke-width="1.25" fill="none"/>
<polygon points="298.00,171.28 294.78,174.50 290.22,174.50 287.00,171.28 287.00,166.72 290.22,163.50 294.78,163.50 298.00,166.72" fill="#000"/>
<path d="M333.00 159.00H350.00M333.00 154.70V163.30M350.00 154.70V163.30" stroke="#000" stroke-width="1.25" fill="none"/>
<polygon points="347.00,161.28 343.78,164.50 339.22,164.50 336.00,161.28 336.00,156.72 339.22,153.50 343.78,153.50 347.00,156.72" fill="#000"/>
<path d="M342.00 159.00H359.00M342.00 154.70V163.30M359.00 154.70V163.30" stroke="#000" stroke-width="1.25" fill="none"/>
<polygon points="356.00,161.28 352.78,164.50 348.22,164.50 345.00,161.28 345.00,156.72 348.22,153.50 352.78,153.50 356.00,156.72" fill="#000"/>
<polygon points="347.50,166.78 344.28,170.00 339.72,170.00 336.50,166.78 336.50,162.22 339.72,159.00 344.28,159.00 347.50,162.22" fill="#000"/>
<path d="M348.00 169.00H364.00M348.00 164.70V173.30M364.00 164.70V173.30" stroke="#000" stroke-width="1.25" fill="none"/>
<polygon points="361.50,171.28 358.28,174.50 353.72,174.50 350.50,171.28 350.50,166.72 353.72,163.50 358.28,163.50 361.50,166.72" fill="#000"/>
<path d="M355.00 173.50H372.50M355.00 169.20V177.80M372.50 169.20V177.80" stroke="#000" stroke-width="1.25" fill="none"/>
<polygon points="369.00,175.78 365.78,179.00 361.22,179.00 358.00,175.78 358.00,171.22 361.22,168.00 365.78,168.00 369.00,171.22" fill="#000"/>
<path d="M318.00 178.00H336.00M318.00 173.70V182.30M336.00 173.70V182.30" stroke="#000" stroke-width="1.25" fill="none"/>
<polygon points="332.50,180.28 329.28,183.50 324.72,183.50 321.50,180.28 321.50,175.72 324.72,172.50 329.28,172.50 332.50,175.72" fill="#000"/>
<path d="M331.00 178.00H349.00M331.00 173.70V182.30M349.00 173.70V182.30" stroke="#000" stroke-width="1.25" fill="none"/>
<polygon points="345.50,180.28 342.28,183.50 337.72,183.50 334.50,180.28 334.50,175.72 337.72,172.50 342.28,172.50 345.50,175.72" fill="#000"/>
<path d="M324.40 187.50H340.00M324.40 183.20V191.80M340.00 183.20V191.80" stroke="#000" stroke-width="1.25" fill="none"/>
<polygon points="337.00,189.78 333.78,193.00 329.22,193.00 326.00,189.78 326.00,185.22 329.22,182.00 333.78,182.00 337.00,185.22" fill="#000"/>
<path d="M262.00 183.00H280.00M262.00 178.70V187.30M280.00 178.70V187.30" stroke="#000" stroke-width="1.25" fill="none"/>
<polygon points="276.90,185.28 273.68,188.50 269.12,188.50 265.90,185.28 265.90,180.72 269.12,177.50 273.68,177.50 276.90,180.72" fill="#000"/>
<path d="M295.00 183.00H312.00M295.00 178.70V187.30M312.00 178.70V187.30" stroke="#000" stroke-width="1.25" fill="none"/>
<polygon points="308.50,185.28 305.28,188.50 300.72,188.50 297.50,185.28 297.50,180.72 300.72,177.50 305.28,177.50 308.50,180.72" fill="#000"/>
<path d="M277.00 192.30H294.00M277.00 188.00V196.60M294.00 188.00V196.60" stroke="#000" stroke-width="1.25" fill="none"/>
<polygon points="291.10,194.58 287.88,197.80 283.32,197.80 280.10,194.58 280.10,190.02 283.32,186.80 287.88,186.80 291.10,190.02" fill="#000"/>
<path d="M290.00 192.50H305.00M290.00 188.20V196.80M305.00 188.20V196.80" stroke="#000" stroke-width="1.25" fill="none"/>
<polygon points="303.00,194.78 299.78,198.00 295.22,198.00 292.00,194.78 292.00,190.22 295.22,187.00 299.78,187.00 303.00,190.22" fill="#000"/>
<path d="M313.00 207.25H330.60M313.00 202.95V211.55M330.60 202.95V211.55" stroke="#000" stroke-width="1.25" fill="none"/>
<polygon points="327.40,209.53 324.18,212.75 319.62,212.75 316.40,209.53 316.40,204.97 319.62,201.75 324.18,201.75 327.40,204.97" fill="#000"/>
<path d="M251.30 211.40H269.20M251.30 207.10V215.70M269.20 207.10V215.70" stroke="#000" stroke-width="1.25" fill="none"/>
<polygon points="265.80,213.68 262.58,216.90 258.02,216.90 254.80,213.68 254.80,209.12 258.02,205.90 262.58,205.90 265.80,209.12" fill="#000"/>
<path d="M207.60 216.80H227.10M207.60 212.50V221.10M227.10 212.50V221.10" stroke="#000" stroke-width="1.25" fill="none"/>
<polygon points="223.00,219.08 219.78,222.30 215.22,222.30 212.00,219.08 212.00,214.52 215.22,211.30 219.78,211.30 223.00,214.52" fill="#000"/>
<path d="M172.75 235.80H200.30M172.75 231.50V240.10M200.30 231.50V240.10" stroke="#000" stroke-width="1.25" fill="none"/>
<polygon points="191.90,238.08 188.68,241.30 184.12,241.30 180.90,238.08 180.90,233.52 184.12,230.30 188.68,230.30 191.90,233.52" fill="#000"/>
<path d="M231.00 235.80H248.30M231.00 231.50V240.10M248.30 231.50V240.10" stroke="#000" stroke-width="1.25" fill="none"/>
<polygon points="244.70,238.08 241.48,241.30 236.92,241.30 233.70,238.08 233.70,233.52 236.92,230.30 241.48,230.30 244.70,233.52" fill="#000"/>
<path d="M256.60 235.80H274.20M256.60 231.50V240.10M274.20 231.50V240.10" stroke="#000" stroke-width="1.25" fill="none"/>
<polygon points="271.00,238.08 267.78,241.30 263.22,241.30 260.00,238.08 260.00,233.52 263.22,230.30 267.78,230.30 271.00,233.52" fill="#000"/>
<path d="M180.50 259.80H200.00M180.50 255.50V264.10M200.00 255.50V264.10" stroke="#000" stroke-width="1.25" fill="none"/>
<polygon points="197.00,262.08 193.78,265.30 189.22,265.30 186.00,262.08 186.00,257.52 189.22,254.30 193.78,254.30 197.00,257.52" fill="#000"/>
<path d="M115.00 267.30H181.75M115.00 263.00V271.60M181.75 263.00V271.60" stroke="#000" stroke-width="1.25" fill="none"/>
<polygon points="153.50,269.58 150.28,272.80 145.72,272.80 142.50,269.58 142.50,265.02 145.72,261.80 150.28,261.80 153.50,265.02" fill="#000"/>
<path d="M482.50 63.75H449.50M458.70 55.45L449.50 63.75L458.70 72.05" stroke="#0a0af0" stroke-width="1.25" fill="none"/>
<polygon points="488.00,66.03 484.78,69.25 480.22,69.25 477.00,66.03 477.00,61.47 480.22,58.25 484.78,58.25 488.00,61.47" fill="#0a0af0"/>
<path d="M417.50 73.10H441.90M417.50 68.80V77.40M441.90 68.80V77.40" stroke="#0a0af0" stroke-width="1.25" fill="none"/>
<polygon points="436.70,75.38 433.48,78.60 428.92,78.60 425.70,75.38 425.70,70.82 428.92,67.60 433.48,67.60 436.70,70.82" fill="#0a0af0"/>
<path d="M441.90 72.80H471.25M441.90 68.50V77.10M471.25 68.50V77.10" stroke="#0a0af0" stroke-width="1.25" fill="none"/>
<polygon points="462.40,75.08 459.18,78.30 454.62,78.30 451.40,75.08 451.40,70.52 454.62,67.30 459.18,67.30 462.40,70.52" fill="#0a0af0"/>
<path d="M415.60 77.80H477.50M415.60 73.50V82.10M477.50 73.50V82.10" stroke="#0a0af0" stroke-width="1.25" fill="none"/>
<polygon points="451.75,80.08 448.53,83.30 443.97,83.30 440.75,80.08 440.75,75.52 443.97,72.30 448.53,72.30 451.75,75.52" fill="#0a0af0"/>
<path d="M481.90 92.50H448.75M457.95 84.20L448.75 92.50L457.95 100.80" stroke="#0a0af0" stroke-width="1.25" fill="none"/>
<polygon points="487.40,94.78 484.18,98.00 479.62,98.00 476.40,94.78 476.40,90.22 479.62,87.00 484.18,87.00 487.40,90.22" fill="#0a0af0"/>
<path d="M383.75 82.50H400.60M383.75 78.20V86.80M400.60 78.20V86.80" stroke="#0a0af0" stroke-width="1.25" fill="none"/>
<polygon points="398.00,84.78 394.78,88.00 390.22,88.00 387.00,84.78 387.00,80.22 390.22,77.00 394.78,77.00 398.00,80.22" fill="#0a0af0"/>
<path d="M358.50 97.25H380.25M358.50 92.95V101.55M380.25 92.95V101.55" stroke="#0a0af0" stroke-width="1.25" fill="none"/>
<polygon points="374.90,99.53 371.68,102.75 367.12,102.75 363.90,99.53 363.90,94.97 367.12,91.75 371.68,91.75 374.90,94.97" fill="#0a0af0"/>
<path d="M380.60 101.90H398.10M380.60 97.60V106.20M398.10 97.60V106.20" stroke="#0a0af0" stroke-width="1.25" fill="none"/>
<polygon points="394.90,104.18 391.68,107.40 387.12,107.40 383.90,104.18 383.90,99.62 387.12,96.40 391.68,96.40 394.90,99.62" fill="#0a0af0"/>
<path d="M430.00 126.00H445.70M430.00 121.70V130.30M445.70 121.70V130.30" stroke="#0a0af0" stroke-width="1.25" fill="none"/>
<path d="M438.70 126.00H406.30M415.50 117.70L406.30 126.00L415.50 134.30" stroke="#0a0af0" stroke-width="1.25" fill="none"/>
<polygon points="444.20,128.28 440.98,131.50 436.42,131.50 433.20,128.28 433.20,123.72 436.42,120.50 440.98,120.50 444.20,123.72" fill="#0a0af0"/>
<polygon points="447.00,128.28 443.78,131.50 439.22,131.50 436.00,128.28 436.00,123.72 439.22,120.50 443.78,120.50 447.00,123.72" fill="#0a0af0"/>
<path d="M374.70 135.70H392.00M374.70 131.40V140.00M392.00 131.40V140.00" stroke="#0a0af0" stroke-width="1.25" fill="none"/>
<polygon points="388.20,137.98 384.98,141.20 380.42,141.20 377.20,137.98 377.20,133.42 380.42,130.20 384.98,130.20 388.20,133.42" fill="#0a0af0"/>
<path d="M291.00 145.00H329.00M291.00 140.70V149.30M329.00 140.70V149.30" stroke="#0a0af0" stroke-width="1.25" fill="none"/>
<polygon points="315.50,147.28 312.28,150.50 307.72,150.50 304.50,147.28 304.50,142.72 307.72,139.50 312.28,139.50 315.50,142.72" fill="#0a0af0"/>
<polygon points="300.50,151.78 297.28,155.00 292.72,155.00 289.50,151.78 289.50,147.22 292.72,144.00 297.28,144.00 300.50,147.22" fill="#0a0af0"/>
<path d="M287.50 159.50H307.00M287.50 155.20V163.80M307.00 155.20V163.80" stroke="#0a0af0" stroke-width="1.25" fill="none"/>
<polygon points="303.00,161.78 299.78,165.00 295.22,165.00 292.00,161.78 292.00,157.22 295.22,154.00 299.78,154.00 303.00,157.22" fill="#0a0af0"/>
<path d="M228.50 154.50H195.50M204.70 146.20L195.50 154.50L204.70 162.80" stroke="#0a0af0" stroke-width="1.25" fill="none"/>
<polygon points="234.00,156.78 230.78,160.00 226.22,160.00 223.00,156.78 223.00,152.22 226.22,149.00 230.78,149.00 234.00,152.22" fill="#0a0af0"/>
<path d="M274.00 159.30H241.50M250.70 151.00L241.50 159.30L250.70 167.60" stroke="#0a0af0" stroke-width="1.25" fill="none"/>
<polygon points="279.50,161.58 276.28,164.80 271.72,164.80 268.50,161.58 268.50,157.02 271.72,153.80 276.28,153.80 279.50,157.02" fill="#0a0af0"/>
<path d="M317.50 164.50H336.00M317.50 160.20V168.80M336.00 160.20V168.80" stroke="#0a0af0" stroke-width="1.25" fill="none"/>
<polygon points="333.00,166.78 329.78,170.00 325.22,170.00 322.00,166.78 322.00,162.22 325.22,159.00 329.78,159.00 333.00,162.22" fill="#0a0af0"/>
<path d="M343.00 183.00H360.00M343.00 178.70V187.30M360.00 178.70V187.30" stroke="#0a0af0" stroke-width="1.25" fill="none"/>
<polygon points="357.50,185.28 354.28,188.50 349.72,188.50 346.50,185.28 346.50,180.72 349.72,177.50 354.28,177.50 357.50,180.72" fill="#0a0af0"/>
<path d="M209.00 178.50H269.50M209.00 174.20V182.80M269.50 174.20V182.80" stroke="#0a0af0" stroke-width="1.25" fill="none"/>
<polygon points="245.00,180.78 241.78,184.00 237.22,184.00 234.00,180.78 234.00,176.22 237.22,173.00 241.78,173.00 245.00,176.22" fill="#0a0af0"/>
<path d="M254.60 193.00H271.20M254.60 188.70V197.30M271.20 188.70V197.30" stroke="#0a0af0" stroke-width="1.25" fill="none"/>
<polygon points="268.80,195.28 265.58,198.50 261.02,198.50 257.80,195.28 257.80,190.72 261.02,187.50 265.58,187.50 268.80,190.72" fill="#0a0af0"/>
<path d="M271.70 202.00H292.00M271.70 197.70V206.30M292.00 197.70V206.30" stroke="#0a0af0" stroke-width="1.25" fill="none"/>
<polygon points="288.50,204.28 285.28,207.50 280.72,207.50 277.50,204.28 277.50,199.72 280.72,196.50 285.28,196.50 288.50,199.72" fill="#0a0af0"/>
<path d="M291.25 202.25H310.00M291.25 197.95V206.55M310.00 197.95V206.55" stroke="#0a0af0" stroke-width="1.25" fill="none"/>
<polygon points="305.50,204.53 302.28,207.75 297.72,207.75 294.50,204.53 294.50,199.97 297.72,196.75 302.28,196.75 305.50,199.97" fill="#0a0af0"/>
<path d="M326.25 197.25H294.00M303.20 188.95L294.00 197.25L303.20 205.55" stroke="#0a0af0" stroke-width="1.25" fill="none"/>
<polygon points="331.75,199.53 328.53,202.75 323.97,202.75 320.75,199.53 320.75,194.97 323.97,191.75 328.53,191.75 331.75,194.97" fill="#0a0af0"/>
<path d="M264.00 221.50H229.00M238.20 213.20L229.00 221.50L238.20 229.80" stroke="#0a0af0" stroke-width="1.25" fill="none"/>
<polygon points="269.50,223.78 266.28,227.00 261.72,227.00 258.50,223.78 258.50,219.22 261.72,216.00 266.28,216.00 269.50,219.22" fill="#0a0af0"/>
<path d="M259.00 225.80H226.00M235.20 217.50L226.00 225.80L235.20 234.10" stroke="#0a0af0" stroke-width="1.25" fill="none"/>
<polygon points="264.50,228.08 261.28,231.30 256.72,231.30 253.50,228.08 253.50,223.52 256.72,220.30 261.28,220.30 264.50,223.52" fill="#0a0af0"/>
<path d="M223.60 235.80H242.00M223.60 231.50V240.10M242.00 231.50V240.10" stroke="#0a0af0" stroke-width="1.25" fill="none"/>
<polygon points="239.30,238.08 236.08,241.30 231.52,241.30 228.30,238.08 228.30,233.52 231.52,230.30 236.08,230.30 239.30,233.52" fill="#0a0af0"/>
<path d="M278.30 245.30H245.30M254.50 237.00L245.30 245.30L254.50 253.60" stroke="#0a0af0" stroke-width="1.25" fill="none"/>
<polygon points="283.80,247.58 280.58,250.80 276.02,250.80 272.80,247.58 272.80,243.02 276.02,239.80 280.58,239.80 283.80,243.02" fill="#0a0af0"/>
<path d="M230.50 250.00H197.50M206.70 241.70L197.50 250.00L206.70 258.30" stroke="#0a0af0" stroke-width="1.25" fill="none"/>
<polygon points="236.00,252.28 232.78,255.50 228.22,255.50 225.00,252.28 225.00,247.72 228.22,244.50 232.78,244.50 236.00,247.72" fill="#0a0af0"/>
<path d="M192.00 259.80H209.50M192.00 255.50V264.10M209.50 255.50V264.10" stroke="#0a0af0" stroke-width="1.25" fill="none"/>
<polygon points="206.60,262.08 203.38,265.30 198.82,265.30 195.60,262.08 195.60,257.52 198.82,254.30 203.38,254.30 206.60,257.52" fill="#0a0af0"/>
<path d="M148.30 274.00H115.00M124.20 265.70L115.00 274.00L124.20 282.30" stroke="#0a0af0" stroke-width="1.25" fill="none"/>
<polygon points="153.80,276.28 150.58,279.50 146.02,279.50 142.80,276.28 142.80,271.72 146.02,268.50 150.58,268.50 153.80,271.72" fill="#0a0af0"/>
</g>
<clipPath id="c2"><rect x="677.50" y="15.50" width="478.50" height="311.30"/></clipPath><g clip-path="url(#c2)">
<line x1="726.25" y1="262.9" x2="1139.6" y2="27.5" stroke="#000" stroke-width="1.5"/>
<path d="M1100.50 54.05H1116.60M1100.50 49.75V58.35M1116.60 49.75V58.35" stroke="#000" stroke-width="1.25" fill="none"/>
<polygon points="1113.70,56.33 1110.48,59.55 1105.92,59.55 1102.70,56.33 1102.70,51.77 1105.92,48.55 1110.48,48.55 1113.70,51.77" fill="#000"/>
<path d="M1008.40 87.80H1025.60M1008.40 83.50V92.10M1025.60 83.50V92.10" stroke="#000" stroke-width="1.25" fill="none"/>
<polygon points="1021.80,90.08 1018.58,93.30 1014.02,93.30 1010.80,90.08 1010.80,85.52 1014.02,82.30 1018.58,82.30 1021.80,85.52" fill="#000"/>
<path d="M1039.60 98.40H1056.80M1039.60 94.10V102.70M1056.80 94.10V102.70" stroke="#000" stroke-width="1.25" fill="none"/>
<polygon points="1053.70,100.68 1050.48,103.90 1045.92,103.90 1042.70,100.68 1042.70,96.12 1045.92,92.90 1050.48,92.90 1053.70,96.12" fill="#000"/>
<path d="M964.60 111.70H982.50M964.60 107.40V116.00M982.50 107.40V116.00" stroke="#000" stroke-width="1.25" fill="none"/>
<polygon points="979.40,113.98 976.18,117.20 971.62,117.20 968.40,113.98 968.40,109.42 971.62,106.20 976.18,106.20 979.40,109.42" fill="#000"/>
<polygon points="982.70,128.58 979.48,131.80 974.92,131.80 971.70,128.58 971.70,124.02 974.92,120.80 979.48,120.80 982.70,124.02" fill="#000"/>
<path d="M981.00 126.30H999.00M981.00 122.00V130.60M999.00 122.00V130.60" stroke="#000" stroke-width="1.25" fill="none"/>
<polygon points="995.90,128.58 992.68,131.80 988.12,131.80 984.90,128.58 984.90,124.02 988.12,120.80 992.68,120.80 995.90,124.02" fill="#000"/>
<path d="M998.40 126.30H1016.30M998.40 122.00V130.60M1016.30 122.00V130.60" stroke="#000" stroke-width="1.25" fill="none"/>
<polygon points="1012.70,128.58 1009.48,131.80 1004.92,131.80 1001.70,128.58 1001.70,124.02 1004.92,120.80 1009.48,120.80 1012.70,124.02" fill="#000"/>
<path d="M936.40 135.60H952.00M936.40 131.30V139.90M952.00 131.30V139.90" stroke="#000" stroke-width="1.25" fill="none"/>
<polygon points="949.50,137.88 946.28,141.10 941.72,141.10 938.50,137.88 938.50,133.32 941.72,130.10 946.28,130.10 949.50,133.32" fill="#000"/>
<polygon points="980.30,136.78 977.08,140.00 972.52,140.00 969.30,136.78 969.30,132.22 972.52,129.00 977.08,129.00 980.30,132.22" fill="#000"/>
<path d="M965.00 140.90H983.10M965.00 136.60V145.20M983.10 136.60V145.20" stroke="#000" stroke-width="1.25" fill="none"/>
<polygon points="979.30,143.18 976.08,146.40 971.52,146.40 968.30,143.18 968.30,138.62 971.52,135.40 976.08,135.40 979.30,138.62" fill="#000"/>
<path d="M938.40 145.40H957.00M938.40 141.10V149.70M957.00 141.10V149.70" stroke="#000" stroke-width="1.25" fill="none"/>
<polygon points="953.50,147.68 950.28,150.90 945.72,150.90 942.50,147.68 942.50,143.12 945.72,139.90 950.28,139.90 953.50,143.12" fill="#000"/>
<path d="M957.00 145.40H974.30M957.00 141.10V149.70M974.30 141.10V149.70" stroke="#000" stroke-width="1.25" fill="none"/>
<polygon points="971.30,147.68 968.08,150.90 963.52,150.90 960.30,147.68 960.30,143.12 963.52,139.90 968.08,139.90 971.30,143.12" fill="#000"/>
<path d="M946.40 173.80H964.30M946.40 169.50V178.10M964.30 169.50V178.10" stroke="#000" stroke-width="1.25" fill="none"/>
<polygon points="960.50,176.08 957.28,179.30 952.72,179.30 949.50,176.08 949.50,171.52 952.72,168.30 957.28,168.30 960.50,171.52" fill="#000"/>
<path d="M910.50 159.20H928.50M910.50 154.90V163.50M928.50 154.90V163.50" stroke="#000" stroke-width="1.25" fill="none"/>
<polygon points="924.70,161.48 921.48,164.70 916.92,164.70 913.70,161.48 913.70,156.92 916.92,153.70 921.48,153.70 924.70,156.92" fill="#000"/>
<path d="M912.50 169.10H929.80M912.50 164.80V173.40M929.80 164.80V173.40" stroke="#000" stroke-width="1.25" fill="none"/>
<polygon points="926.70,171.38 923.48,174.60 918.92,174.60 915.70,171.38 915.70,166.82 918.92,163.60 923.48,163.60 926.70,166.82" fill="#000"/>
<path d="M902.60 177.10H918.00M902.60 172.80V181.40M918.00 172.80V181.40" stroke="#000" stroke-width="1.25" fill="none"/>
<polygon points="915.40,179.38 912.18,182.60 907.62,182.60 904.40,179.38 904.40,174.82 907.62,171.60 912.18,171.60 915.40,174.82" fill="#000"/>
<path d="M886.00 187.70H903.90M886.00 183.40V192.00M903.90 183.40V192.00" stroke="#000" stroke-width="1.25" fill="none"/>
<polygon points="900.30,189.98 897.08,193.20 892.52,193.20 889.30,189.98 889.30,185.42 892.52,182.20 897.08,182.20 900.30,185.42" fill="#000"/>
<path d="M877.50 207.00H896.20M877.50 202.70V211.30M896.20 202.70V211.30" stroke="#000" stroke-width="1.25" fill="none"/>
<polygon points="892.50,209.28 889.28,212.50 884.72,212.50 881.50,209.28 881.50,204.72 884.72,201.50 889.28,201.50 892.50,204.72" fill="#000"/>
<polygon points="894.90,160.28 891.68,163.50 887.12,163.50 883.90,160.28 883.90,155.72 887.12,152.50 891.68,152.50 894.90,155.72" fill="#000"/>
<path d="M823.00 153.90H868.00M823.00 149.60V158.20M868.00 149.60V158.20" stroke="#000" stroke-width="1.25" fill="none"/>
<polygon points="851.10,156.18 847.88,159.40 843.32,159.40 840.10,156.18 840.10,151.62 843.32,148.40 847.88,148.40 851.10,151.62" fill="#000"/>
<path d="M821.70 168.80H878.10M821.70 164.50V173.10M878.10 164.50V173.10" stroke="#000" stroke-width="1.25" fill="none"/>
<polygon points="843.20,171.08 839.98,174.30 835.42,174.30 832.20,171.08 832.20,166.52 835.42,163.30 839.98,163.30 843.20,166.52" fill="#000"/>
<polygon points="855.10,171.08 851.88,174.30 847.32,174.30 844.10,171.08 844.10,166.52 847.32,163.30 851.88,163.30 855.10,166.52" fill="#000"/>
<path d="M853.00 178.10H870.00M853.00 173.80V182.40M870.00 173.80V182.40" stroke="#000" stroke-width="1.25" fill="none"/>
<polygon points="867.00,180.38 863.78,183.60 859.22,183.60 856.00,180.38 856.00,175.82 859.22,172.60 863.78,172.60 867.00,175.82" fill="#000"/>
<path d="M860.00 182.40H878.80M860.00 178.10V186.70M878.80 178.10V186.70" stroke="#000" stroke-width="1.25" fill="none"/>
<polygon points="875.00,184.68 871.78,187.90 867.22,187.90 864.00,184.68 864.00,180.12 867.22,176.90 871.78,176.90 875.00,180.12" fill="#000"/>
<path d="M791.20 183.40H821.70M791.20 179.10V187.70M821.70 179.10V187.70" stroke="#000" stroke-width="1.25" fill="none"/>
<polygon points="812.00,185.68 808.78,188.90 804.22,188.90 801.00,185.68 801.00,181.12 804.22,177.90 808.78,177.90 812.00,181.12" fill="#000"/>
<path d="M827.70 193.10H854.30M827.70 188.80V197.40M854.30 188.80V197.40" stroke="#000" stroke-width="1.25" fill="none"/>
<polygon points="845.10,195.38 841.88,198.60 837.32,198.60 834.10,195.38 834.10,190.82 837.32,187.60 841.88,187.60 845.10,190.82" fill="#000"/>
<polygon points="850.50,195.38 847.28,198.60 842.72,198.60 839.50,195.38 839.50,190.82 842.72,187.60 847.28,187.60 850.50,190.82" fill="#000"/>
<polygon points="856.00,194.78 852.78,198.00 848.22,198.00 845.00,194.78 845.00,190.22 848.22,187.00 852.78,187.00 856.00,190.22" fill="#000"/>
<path d="M819.50 211.80H838.60M819.50 207.50V216.10M838.60 207.50V216.10" stroke="#000" stroke-width="1.25" fill="none"/>
<polygon points="834.70,214.08 831.48,217.30 826.92,217.30 823.70,214.08 823.70,209.52 826.92,206.30 831.48,206.30 834.70,209.52" fill="#000"/>
<path d="M765.80 216.20H786.20M765.80 211.90V220.50M786.20 211.90V220.50" stroke="#000" stroke-width="1.25" fill="none"/>
<polygon points="782.40,218.48 779.18,221.70 774.62,221.70 771.40,218.48 771.40,213.92 774.62,210.70 779.18,210.70 782.40,213.92" fill="#000"/>
<path d="M785.60 236.00H811.00M785.60 231.70V240.30M811.00 231.70V240.30" stroke="#000" stroke-width="1.25" fill="none"/>
<polygon points="804.10,238.28 800.88,241.50 796.32,241.50 793.10,238.28 793.10,233.72 796.32,230.50 800.88,230.50 804.10,233.72" fill="#000"/>
<path d="M830.80 236.00H847.50M830.80 231.70V240.30M847.50 231.70V240.30" stroke="#000" stroke-width="1.25" fill="none"/>
<polygon points="845.00,238.28 841.78,241.50 837.22,241.50 834.00,238.28 834.00,233.72 837.22,230.50 841.78,230.50 845.00,233.72" fill="#000"/>
<path d="M729.20 259.80H781.60M729.20 255.50V264.10M781.60 255.50V264.10" stroke="#000" stroke-width="1.25" fill="none"/>
<polygon points="760.90,262.08 757.68,265.30 753.12,265.30 749.90,262.08 749.90,257.52 753.12,254.30 757.68,254.30 760.90,257.52" fill="#000"/>
<path d="M705.00 269.20H742.90M705.00 264.90V273.50M742.90 264.90V273.50" stroke="#000" stroke-width="1.25" fill="none"/>
<polygon points="729.70,271.48 726.48,274.70 721.92,274.70 718.70,271.48 718.70,266.92 721.92,263.70 726.48,263.70 729.70,266.92" fill="#000"/>
<path d="M900.00 177.00H917.00M900.00 172.70V181.30M917.00 172.70V181.30" stroke="#000" stroke-width="1.25" fill="none"/>
<polygon points="914.20,179.28 910.98,182.50 906.42,182.50 903.20,179.28 903.20,174.72 906.42,171.50 910.98,171.50 914.20,174.72" fill="#000"/>
<path d="M983.80 63.90H1025.60M983.80 59.60V68.20M1025.60 59.60V68.20" stroke="#0a0af0" stroke-width="1.25" fill="none"/>
<polygon points="1009.90,66.18 1006.68,69.40 1002.12,69.40 998.90,66.18 998.90,61.62 1002.12,58.40 1006.68,58.40 1009.90,61.62" fill="#0a0af0"/>
<path d="M978.50 72.00H1017.00M978.50 67.70V76.30M1017.00 67.70V76.30" stroke="#0a0af0" stroke-width="1.25" fill="none"/>
<polygon points="1003.20,74.28 999.98,77.50 995.42,77.50 992.20,74.28 992.20,69.72 995.42,66.50 999.98,66.50 1003.20,69.72" fill="#0a0af0"/>
<path d="M1016.30 73.20H1052.20M1016.30 68.90V77.50M1052.20 68.90V77.50" stroke="#0a0af0" stroke-width="1.25" fill="none"/>
<polygon points="1033.10,75.48 1029.88,78.70 1025.32,78.70 1022.10,75.48 1022.10,70.92 1025.32,67.70 1029.88,67.70 1033.10,70.92" fill="#0a0af0"/>
<path d="M932.80 78.80H1061.50M932.80 74.50V83.10M1061.50 74.50V83.10" stroke="#0a0af0" stroke-width="1.25" fill="none"/>
<polygon points="1003.20,81.08 999.98,84.30 995.42,84.30 992.20,81.08 992.20,76.52 995.42,73.30 999.98,73.30 1003.20,76.52" fill="#0a0af0"/>
<path d="M904.50 82.50H925.20M904.50 78.20V86.80M925.20 78.20V86.80" stroke="#0a0af0" stroke-width="1.25" fill="none"/>
<polygon points="919.70,84.78 916.48,88.00 911.92,88.00 908.70,84.78 908.70,80.22 911.92,77.00 916.48,77.00 919.70,80.22" fill="#0a0af0"/>
<path d="M1058.80 92.40H1025.60M1034.80 84.10L1025.60 92.40L1034.80 100.70" stroke="#0a0af0" stroke-width="1.25" fill="none"/>
<polygon points="1064.30,94.68 1061.08,97.90 1056.52,97.90 1053.30,94.68 1053.30,90.12 1056.52,86.90 1061.08,86.90 1064.30,90.12" fill="#0a0af0"/>
<path d="M955.70 101.80H973.30M955.70 97.50V106.10M973.30 97.50V106.10" stroke="#0a0af0" stroke-width="1.25" fill="none"/>
<polygon points="970.10,104.08 966.88,107.30 962.32,107.30 959.10,104.08 959.10,99.52 962.32,96.30 966.88,96.30 970.10,99.52" fill="#0a0af0"/>
<path d="M958.50 126.20H977.00M958.50 121.90V130.50M977.00 121.90V130.50" stroke="#0a0af0" stroke-width="1.25" fill="none"/>
<polygon points="973.60,128.48 970.38,131.70 965.82,131.70 962.60,128.48 962.60,123.92 965.82,120.70 970.38,120.70 973.60,123.92" fill="#0a0af0"/>
<path d="M942.00 135.50H961.20M942.00 131.20V139.80M961.20 131.20V139.80" stroke="#0a0af0" stroke-width="1.25" fill="none"/>
<polygon points="957.00,137.78 953.78,141.00 949.22,141.00 946.00,137.78 946.00,133.22 949.22,130.00 953.78,130.00 957.00,133.22" fill="#0a0af0"/>
<path d="M835.70 144.90H880.10M835.70 140.60V149.20M880.10 140.60V149.20" stroke="#0a0af0" stroke-width="1.25" fill="none"/>
<polygon points="863.10,147.18 859.88,150.40 855.32,150.40 852.10,147.18 852.10,142.62 855.32,139.40 859.88,139.40 863.10,142.62" fill="#0a0af0"/>
<path d="M857.00 149.60H875.50M857.00 145.30V153.90M875.50 145.30V153.90" stroke="#0a0af0" stroke-width="1.25" fill="none"/>
<polygon points="871.70,151.88 868.48,155.10 863.92,155.10 860.70,151.88 860.70,147.32 863.92,144.10 868.48,144.10 871.70,147.32" fill="#0a0af0"/>
<path d="M822.40 154.30H789.50M798.70 146.00L789.50 154.30L798.70 162.60" stroke="#0a0af0" stroke-width="1.25" fill="none"/>
<polygon points="827.90,156.58 824.68,159.80 820.12,159.80 816.90,156.58 816.90,152.02 820.12,148.80 824.68,148.80 827.90,152.02" fill="#0a0af0"/>
<path d="M821.00 159.40H898.00M821.00 155.10V163.70M898.00 155.10V163.70" stroke="#0a0af0" stroke-width="1.25" fill="none"/>
<polygon points="863.10,161.68 859.88,164.90 855.32,164.90 852.10,161.68 852.10,157.12 855.32,153.90 859.88,153.90 863.10,157.12" fill="#0a0af0"/>
<path d="M876.80 158.80H899.40M876.80 154.50V163.10M899.40 154.50V163.10" stroke="#0a0af0" stroke-width="1.25" fill="none"/>
<polygon points="891.10,161.08 887.88,164.30 883.32,164.30 880.10,161.08 880.10,156.52 883.32,153.30 887.88,153.30 891.10,156.52" fill="#0a0af0"/>
<polygon points="894.30,166.28 891.08,169.50 886.52,169.50 883.30,166.28 883.30,161.72 886.52,158.50 891.08,158.50 894.30,161.72" fill="#0a0af0"/>
<path d="M829.00 178.50H795.80M805.00 170.20L795.80 178.50L805.00 186.80" stroke="#0a0af0" stroke-width="1.25" fill="none"/>
<polygon points="834.50,180.78 831.28,184.00 826.72,184.00 823.50,180.78 823.50,176.22 826.72,173.00 831.28,173.00 834.50,176.22" fill="#0a0af0"/>
<path d="M797.80 193.10H833.00M797.80 188.80V197.40M833.00 188.80V197.40" stroke="#0a0af0" stroke-width="1.25" fill="none"/>
<polygon points="820.60,195.38 817.38,198.60 812.82,198.60 809.60,195.38 809.60,190.82 812.82,187.60 817.38,187.60 820.60,190.82" fill="#0a0af0"/>
<path d="M904.60 182.40H923.10M904.60 178.10V186.70M923.10 178.10V186.70" stroke="#0a0af0" stroke-width="1.25" fill="none"/>
<polygon points="919.40,184.68 916.18,187.90 911.62,187.90 908.40,184.68 908.40,180.12 911.62,176.90 916.18,176.90 919.40,180.12" fill="#0a0af0"/>
<path d="M891.60 197.70H858.20M867.40 189.40L858.20 197.70L867.40 206.00" stroke="#0a0af0" stroke-width="1.25" fill="none"/>
<polygon points="897.10,199.98 893.88,203.20 889.32,203.20 886.10,199.98 886.10,195.42 889.32,192.20 893.88,192.20 897.10,195.42" fill="#0a0af0"/>
<path d="M865.00 202.50H839.60M848.80 194.20L839.60 202.50L848.80 210.80" stroke="#0a0af0" stroke-width="1.25" fill="none"/>
<polygon points="870.50,204.78 867.28,208.00 862.72,208.00 859.50,204.78 859.50,200.22 862.72,197.00 867.28,197.00 870.50,200.22" fill="#0a0af0"/>
<polygon points="878.30,204.78 875.08,208.00 870.52,208.00 867.30,204.78 867.30,200.22 870.52,197.00 875.08,197.00 878.30,200.22" fill="#0a0af0"/>
<polygon points="914.20,184.08 910.98,187.30 906.42,187.30 903.20,184.08 903.20,179.52 906.42,176.30 910.98,176.30 914.20,179.52" fill="#0a0af0"/>
<path d="M797.40 193.30H832.00M797.40 189.00V197.60M832.00 189.00V197.60" stroke="#0a0af0" stroke-width="1.25" fill="none"/>
<polygon points="820.20,195.58 816.98,198.80 812.42,198.80 809.20,195.58 809.20,191.02 812.42,187.80 816.98,187.80 820.20,191.02" fill="#0a0af0"/>
<path d="M773.10 221.25H845.60M773.10 216.95V225.55M845.60 216.95V225.55" stroke="#0a0af0" stroke-width="1.25" fill="none"/>
<polygon points="814.90,223.53 811.68,226.75 807.12,226.75 803.90,223.53 803.90,218.97 807.12,215.75 811.68,215.75 814.90,218.97" fill="#0a0af0"/>
<path d="M792.50 236.00H818.75M792.50 231.70V240.30M818.75 231.70V240.30" stroke="#0a0af0" stroke-width="1.25" fill="none"/>
<polygon points="808.60,238.28 805.38,241.50 800.82,241.50 797.60,238.28 797.60,233.72 800.82,230.50 805.38,230.50 808.60,233.72" fill="#0a0af0"/>
<path d="M848.75 245.60H815.60M824.80 237.30L815.60 245.60L824.80 253.90" stroke="#0a0af0" stroke-width="1.25" fill="none"/>
<polygon points="854.25,247.88 851.03,251.10 846.47,251.10 843.25,247.88 843.25,243.32 846.47,240.10 851.03,240.10 854.25,243.32" fill="#0a0af0"/>
<path d="M783.75 250.00H750.40M759.60 241.70L750.40 250.00L759.60 258.30" stroke="#0a0af0" stroke-width="1.25" fill="none"/>
<polygon points="789.25,252.28 786.03,255.50 781.47,255.50 778.25,252.28 778.25,247.72 781.47,244.50 786.03,244.50 789.25,247.72" fill="#0a0af0"/>
<path d="M765.00 259.80H782.10M765.00 255.50V264.10M782.10 255.50V264.10" stroke="#0a0af0" stroke-width="1.25" fill="none"/>
<polygon points="779.70,262.08 776.48,265.30 771.92,265.30 768.70,262.08 768.70,257.52 771.92,254.30 776.48,254.30 779.70,257.52" fill="#0a0af0"/>
<path d="M705.20 226.10H672.00M681.20 217.80L672.00 226.10L681.20 234.40" stroke="#0a0af0" stroke-width="1.25" fill="none"/>
<polygon points="710.70,228.38 707.48,231.60 702.92,231.60 699.70,228.38 699.70,223.82 702.92,220.60 707.48,220.60 710.70,223.82" fill="#0a0af0"/>
<path d="M675.00 288.75H758.75M675.00 284.45V293.05M758.75 284.45V293.05" stroke="#0a0af0" stroke-width="1.25" fill="none"/>
<polygon points="703.00,291.03 699.78,294.25 695.22,294.25 692.00,291.03 692.00,286.47 695.22,283.25 699.78,283.25 703.00,286.47" fill="#0a0af0"/>
</g>
<clipPath id="c3"><rect x="95.00" y="431.20" width="479.00" height="310.60"/></clipPath><g clip-path="url(#c3)">
<line x1="190.3" y1="656.8" x2="525.5" y2="440.6" stroke="#000" stroke-width="1.5"/>
<path d="M523.70 469.60H542.40M523.70 465.30V473.90M542.40 465.30V473.90" stroke="#000" stroke-width="1.25" fill="none"/>
<polygon points="538.30,471.88 535.08,475.10 530.52,475.10 527.30,471.88 527.30,467.32 530.52,464.10 535.08,464.10 538.30,467.32" fill="#000"/>
<path d="M467.60 512.50H487.50M467.60 508.20V516.80M487.50 508.20V516.80" stroke="#000" stroke-width="1.25" fill="none"/>
<polygon points="482.70,514.78 479.48,518.00 474.92,518.00 471.70,514.78 471.70,510.22 474.92,507.00 479.48,507.00 482.70,510.22" fill="#000"/>
<path d="M399.00 501.70H417.70M399.00 497.40V506.00M417.70 497.40V506.00" stroke="#000" stroke-width="1.25" fill="none"/>
<polygon points="413.70,503.98 410.48,507.20 405.92,507.20 402.70,503.98 402.70,499.42 405.92,496.20 410.48,496.20 413.70,499.42" fill="#000"/>
<path d="M388.50 540.90H410.00M388.50 536.60V545.20M410.00 536.60V545.20" stroke="#000" stroke-width="1.25" fill="none"/>
<polygon points="404.60,543.18 401.38,546.40 396.82,546.40 393.60,543.18 393.60,538.62 396.82,535.40 401.38,535.40 404.60,538.62" fill="#000"/>
<path d="M356.00 548.30H377.00M356.00 544.00V552.60M377.00 544.00V552.60" stroke="#000" stroke-width="1.25" fill="none"/>
<polygon points="372.90,550.58 369.68,553.80 365.12,553.80 361.90,550.58 361.90,546.02 365.12,542.80 369.68,542.80 372.90,546.02" fill="#000"/>
<path d="M350.50 555.30H372.20M350.50 551.00V559.60M372.20 551.00V559.60" stroke="#000" stroke-width="1.25" fill="none"/>
<polygon points="366.90,557.58 363.68,560.80 359.12,560.80 355.90,557.58 355.90,553.02 359.12,549.80 363.68,549.80 366.90,553.02" fill="#000"/>
<path d="M310.90 540.30H279.00M288.20 532.00L279.00 540.30L288.20 548.60" stroke="#000" stroke-width="1.25" fill="none"/>
<polygon points="316.40,542.58 313.18,545.80 308.62,545.80 305.40,542.58 305.40,538.02 308.62,534.80 313.18,534.80 316.40,538.02" fill="#000"/>
<path d="M280.20 559.70H246.30M255.50 551.40L246.30 559.70L255.50 568.00" stroke="#000" stroke-width="1.25" fill="none"/>
<polygon points="285.70,561.98 282.48,565.20 277.92,565.20 274.70,561.98 274.70,557.42 277.92,554.20 282.48,554.20 285.70,557.42" fill="#000"/>
<polygon points="322.80,581.98 319.58,585.20 315.02,585.20 311.80,581.98 311.80,577.42 315.02,574.20 319.58,574.20 322.80,577.42" fill="#000"/>
<path d="M273.90 582.90H307.60M273.90 578.60V587.20M307.60 578.60V587.20" stroke="#000" stroke-width="1.25" fill="none"/>
<polygon points="296.10,585.18 292.88,588.40 288.32,588.40 285.10,585.18 285.10,580.62 288.32,577.40 292.88,577.40 296.10,580.62" fill="#000"/>
<polygon points="289.30,590.78 286.08,594.00 281.52,594.00 278.30,590.78 278.30,586.22 281.52,583.00 286.08,583.00 289.30,586.22" fill="#000"/>
<path d="M304.60 593.60H272.00M281.20 585.30L272.00 593.60L281.20 601.90" stroke="#000" stroke-width="1.25" fill="none"/>
<polygon points="310.10,595.88 306.88,599.10 302.32,599.10 299.10,595.88 299.10,591.32 302.32,588.10 306.88,588.10 310.10,591.32" fill="#000"/>
<path d="M256.80 622.60H276.20M256.80 618.30V626.90M276.20 618.30V626.90" stroke="#000" stroke-width="1.25" fill="none"/>
<polygon points="272.20,624.88 268.98,628.10 264.42,628.10 261.20,624.88 261.20,620.32 264.42,617.10 268.98,617.10 272.20,620.32" fill="#000"/>
<path d="M298.80 632.00H266.30M275.50 623.70L266.30 632.00L275.50 640.30" stroke="#000" stroke-width="1.25" fill="none"/>
<polygon points="304.30,634.28 301.08,637.50 296.52,637.50 293.30,634.28 293.30,629.72 296.52,626.50 301.08,626.50 304.30,629.72" fill="#000"/>
<polygon points="335.10,549.78 331.88,553.00 327.32,553.00 324.10,549.78 324.10,545.22 327.32,542.00 331.88,542.00 335.10,545.22" fill="#000"/>
<path d="M156.50 652.80H176.30M156.50 648.50V657.10M176.30 648.50V657.10" stroke="#000" stroke-width="1.25" fill="none"/>
<polygon points="172.10,655.08 168.88,658.30 164.32,658.30 161.10,655.08 161.10,650.52 164.32,647.30 168.88,647.30 172.10,650.52" fill="#000"/>
<polygon points="205.90,677.18 202.68,680.40 198.12,680.40 194.90,677.18 194.90,672.62 198.12,669.40 202.68,669.40 205.90,672.62" fill="#000"/>
<path d="M177.20 684.60H197.40M177.20 680.30V688.90M197.40 680.30V688.90" stroke="#000" stroke-width="1.25" fill="none"/>
<polygon points="192.80,686.88 189.58,690.10 185.02,690.10 181.80,686.88 181.80,682.32 185.02,679.10 189.58,679.10 192.80,682.32" fill="#000"/>
<path d="M428.40 478.60H468.90M428.40 474.30V482.90M468.90 474.30V482.90" stroke="#0a0af0" stroke-width="1.25" fill="none"/>
<polygon points="454.50,480.88 451.28,484.10 446.72,484.10 443.50,480.88 443.50,476.32 446.72,473.10 451.28,473.10 454.50,476.32" fill="#0a0af0"/>
<path d="M418.00 488.90H444.70M418.00 484.60V493.20M444.70 484.60V493.20" stroke="#0a0af0" stroke-width="1.25" fill="none"/>
<polygon points="437.00,491.18 433.78,494.40 429.22,494.40 426.00,491.18 426.00,486.62 429.22,483.40 433.78,483.40 437.00,486.62" fill="#0a0af0"/>
<path d="M446.00 488.90H476.10M446.00 484.60V493.20M476.10 484.60V493.20" stroke="#0a0af0" stroke-width="1.25" fill="none"/>
<polygon points="465.30,491.18 462.08,494.40 457.52,494.40 454.30,491.18 454.30,486.62 457.52,483.40 462.08,483.40 465.30,486.62" fill="#0a0af0"/>
<path d="M368.90 493.20H335.70M344.90 484.90L335.70 493.20L344.90 501.50" stroke="#0a0af0" stroke-width="1.25" fill="none"/>
<polygon points="374.40,495.48 371.18,498.70 366.62,498.70 363.40,495.48 363.40,490.92 366.62,487.70 371.18,487.70 374.40,490.92" fill="#0a0af0"/>
<path d="M355.60 498.00H395.00M355.60 493.70V502.30M395.00 493.70V502.30" stroke="#0a0af0" stroke-width="1.25" fill="none"/>
<polygon points="383.40,500.28 380.18,503.50 375.62,503.50 372.40,500.28 372.40,495.72 375.62,492.50 380.18,492.50 383.40,495.72" fill="#0a0af0"/>
<path d="M383.00 498.00H399.00M383.00 493.70V502.30M399.00 493.70V502.30" stroke="#0a0af0" stroke-width="1.25" fill="none"/>
<polygon points="396.70,500.28 393.48,503.50 388.92,503.50 385.70,500.28 385.70,495.72 388.92,492.50 393.48,492.50 396.70,495.72" fill="#0a0af0"/>
<path d="M405.60 507.60H373.00M382.20 499.30L373.00 507.60L382.20 515.90" stroke="#0a0af0" stroke-width="1.25" fill="none"/>
<polygon points="411.10,509.88 407.88,513.10 403.32,513.10 400.10,509.88 400.10,505.32 403.32,502.10 407.88,502.10 411.10,505.32" fill="#0a0af0"/>
<polygon points="403.90,514.78 400.68,518.00 396.12,518.00 392.90,514.78 392.90,510.22 396.12,507.00 400.68,507.00 403.90,510.22" fill="#0a0af0"/>
<path d="M379.10 517.40H415.90M379.10 513.10V521.70M415.90 513.10V521.70" stroke="#0a0af0" stroke-width="1.25" fill="none"/>
<polygon points="397.10,519.68 393.88,522.90 389.32,522.90 386.10,519.68 386.10,515.12 389.32,511.90 393.88,511.90 397.10,515.12" fill="#0a0af0"/>
<path d="M363.40 531.20H391.20M363.40 526.90V535.50M391.20 526.90V535.50" stroke="#0a0af0" stroke-width="1.25" fill="none"/>
<polygon points="382.80,533.48 379.58,536.70 375.02,536.70 371.80,533.48 371.80,528.92 375.02,525.70 379.58,525.70 382.80,528.92" fill="#0a0af0"/>
<path d="M388.40 541.00H424.60M388.40 536.70V545.30M424.60 536.70V545.30" stroke="#0a0af0" stroke-width="1.25" fill="none"/>
<polygon points="413.30,543.28 410.08,546.50 405.52,546.50 402.30,543.28 402.30,538.72 405.52,535.50 410.08,535.50 413.30,538.72" fill="#0a0af0"/>
<path d="M313.00 535.80H355.30M313.00 531.50V540.10M355.30 531.50V540.10" stroke="#0a0af0" stroke-width="1.25" fill="none"/>
<polygon points="351.80,538.08 348.58,541.30 344.02,541.30 340.80,538.08 340.80,533.52 344.02,530.30 348.58,530.30 351.80,533.52" fill="#0a0af0"/>
<path d="M335.50 540.50H303.00M312.20 532.20L303.00 540.50L312.20 548.80" stroke="#0a0af0" stroke-width="1.25" fill="none"/>
<polygon points="341.00,542.78 337.78,546.00 333.22,546.00 330.00,542.78 330.00,538.22 333.22,535.00 337.78,535.00 341.00,538.22" fill="#0a0af0"/>
<polygon points="367.90,552.48 364.68,555.70 360.12,555.70 356.90,552.48 356.90,547.92 360.12,544.70 364.68,544.70 367.90,547.92" fill="#0a0af0"/>
<path d="M338.70 554.80H305.50M314.70 546.50L305.50 554.80L314.70 563.10" stroke="#0a0af0" stroke-width="1.25" fill="none"/>
<polygon points="344.20,557.08 340.98,560.30 336.42,560.30 333.20,557.08 333.20,552.52 336.42,549.30 340.98,549.30 344.20,552.52" fill="#0a0af0"/>
<path d="M322.50 550.20H290.00M299.20 541.90L290.00 550.20L299.20 558.50" stroke="#0a0af0" stroke-width="1.25" fill="none"/>
<polygon points="328.00,552.48 324.78,555.70 320.22,555.70 317.00,552.48 317.00,547.92 320.22,544.70 324.78,544.70 328.00,547.92" fill="#0a0af0"/>
<path d="M367.40 565.00H334.40M343.60 556.70L334.40 565.00L343.60 573.30" stroke="#0a0af0" stroke-width="1.25" fill="none"/>
<polygon points="372.90,567.28 369.68,570.50 365.12,570.50 361.90,567.28 361.90,562.72 365.12,559.50 369.68,559.50 372.90,562.72" fill="#0a0af0"/>
<polygon points="348.50,576.58 345.28,579.80 340.72,579.80 337.50,576.58 337.50,572.02 340.72,568.80 345.28,568.80 348.50,572.02" fill="#0a0af0"/>
<polygon points="356.00,576.58 352.78,579.80 348.22,579.80 345.00,576.58 345.00,572.02 348.22,568.80 352.78,568.80 356.00,572.02" fill="#0a0af0"/>
<path d="M293.70 612.70H260.70M269.90 604.40L260.70 612.70L269.90 621.00" stroke="#0a0af0" stroke-width="1.25" fill="none"/>
<polygon points="299.20,614.98 295.98,618.20 291.42,618.20 288.20,614.98 288.20,610.42 291.42,607.20 295.98,607.20 299.20,610.42" fill="#0a0af0"/>
<path d="M297.00 598.00H264.00M273.20 589.70L264.00 598.00L273.20 606.30" stroke="#0a0af0" stroke-width="1.25" fill="none"/>
<polygon points="302.50,600.28 299.28,603.50 294.72,603.50 291.50,600.28 291.50,595.72 294.72,592.50 299.28,592.50 302.50,595.72" fill="#0a0af0"/>
<polygon points="312.00,571.28 308.78,574.50 304.22,574.50 301.00,571.28 301.00,566.72 304.22,563.50 308.78,563.50 312.00,566.72" fill="#0a0af0"/>
<path d="M359.00 578.90H326.00M335.20 570.60L326.00 578.90L335.20 587.20" stroke="#0a0af0" stroke-width="1.25" fill="none"/>
<polygon points="364.50,581.18 361.28,584.40 356.72,584.40 353.50,581.18 353.50,576.62 356.72,573.40 361.28,573.40 364.50,576.62" fill="#0a0af0"/>
<path d="M413.80 579.60H380.60M389.80 571.30L380.60 579.60L389.80 587.90" stroke="#0a0af0" stroke-width="1.25" fill="none"/>
<polygon points="419.30,581.88 416.08,585.10 411.52,585.10 408.30,581.88 408.30,577.32 411.52,574.10 416.08,574.10 419.30,577.32" fill="#0a0af0"/>
<polygon points="339.10,605.28 335.88,608.50 331.32,608.50 328.10,605.28 328.10,600.72 331.32,597.50 335.88,597.50 339.10,600.72" fill="#0a0af0"/>
<polygon points="330.90,566.68 327.68,569.90 323.12,569.90 319.90,566.68 319.90,562.12 323.12,558.90 327.68,558.90 330.90,562.12" fill="#0a0af0"/>
<path d="M305.60 569.50H272.50M281.70 561.20L272.50 569.50L281.70 577.80" stroke="#0a0af0" stroke-width="1.25" fill="none"/>
<polygon points="311.10,571.78 307.88,575.00 303.32,575.00 300.10,571.78 300.10,567.22 303.32,564.00 307.88,564.00 311.10,567.22" fill="#0a0af0"/>
<path d="M251.00 559.80H292.00M251.00 555.50V564.10M292.00 555.50V564.10" stroke="#0a0af0" stroke-width="1.25" fill="none"/>
<polygon points="277.10,562.08 273.88,565.30 269.32,565.30 266.10,562.08 266.10,557.52 269.32,554.30 273.88,554.30 277.10,557.52" fill="#0a0af0"/>
<polygon points="324.50,596.08 321.28,599.30 316.72,599.30 313.50,596.08 313.50,591.52 316.72,588.30 321.28,588.30 324.50,591.52" fill="#0a0af0"/>
<polygon points="322.70,609.28 319.48,612.50 314.92,612.50 311.70,609.28 311.70,604.72 314.92,601.50 319.48,601.50 322.70,604.72" fill="#0a0af0"/>
<path d="M332.90 602.80H300.00M309.20 594.50L300.00 602.80L309.20 611.10" stroke="#0a0af0" stroke-width="1.25" fill="none"/>
<polygon points="338.40,605.08 335.18,608.30 330.62,608.30 327.40,605.08 327.40,600.52 330.62,597.30 335.18,597.30 338.40,600.52" fill="#0a0af0"/>
<path d="M290.70 603.40H257.70M266.90 595.10L257.70 603.40L266.90 611.70" stroke="#0a0af0" stroke-width="1.25" fill="none"/>
<polygon points="296.20,605.68 292.98,608.90 288.42,608.90 285.20,605.68 285.20,601.12 288.42,597.90 292.98,597.90 296.20,601.12" fill="#0a0af0"/>
<path d="M301.50 607.60H268.50M277.70 599.30L268.50 607.60L277.70 615.90" stroke="#0a0af0" stroke-width="1.25" fill="none"/>
<polygon points="307.00,609.88 303.78,613.10 299.22,613.10 296.00,609.88 296.00,605.32 299.22,602.10 303.78,602.10 307.00,605.32" fill="#0a0af0"/>
<path d="M290.70 617.90H257.70M266.90 609.60L257.70 617.90L266.90 626.20" stroke="#0a0af0" stroke-width="1.25" fill="none"/>
<polygon points="296.20,620.18 292.98,623.40 288.42,623.40 285.20,620.18 285.20,615.62 288.42,612.40 292.98,612.40 296.20,615.62" fill="#0a0af0"/>
<polygon points="296.00,623.48 292.78,626.70 288.22,626.70 285.00,623.48 285.00,618.92 288.22,615.70 292.78,615.70 296.00,618.92" fill="#0a0af0"/>
<path d="M282.40 637.00H250.70M259.90 628.70L250.70 637.00L259.90 645.30" stroke="#0a0af0" stroke-width="1.25" fill="none"/>
<polygon points="287.90,639.28 284.68,642.50 280.12,642.50 276.90,639.28 276.90,634.72 280.12,631.50 284.68,631.50 287.90,634.72" fill="#0a0af0"/>
<path d="M246.00 641.70H213.30M222.50 633.40L213.30 641.70L222.50 650.00" stroke="#0a0af0" stroke-width="1.25" fill="none"/>
<polygon points="251.50,643.98 248.28,647.20 243.72,647.20 240.50,643.98 240.50,639.42 243.72,636.20 248.28,636.20 251.50,639.42" fill="#0a0af0"/>
<path d="M210.50 632.00H251.90M210.50 627.70V636.30M251.90 627.70V636.30" stroke="#0a0af0" stroke-width="1.25" fill="none"/>
<polygon points="236.40,634.28 233.18,637.50 228.62,637.50 225.40,634.28 225.40,629.72 228.62,626.50 233.18,626.50 236.40,629.72" fill="#0a0af0"/>
<path d="M253.80 651.30H282.60M253.80 647.00V655.60M282.60 647.00V655.60" stroke="#0a0af0" stroke-width="1.25" fill="none"/>
<polygon points="273.60,653.58 270.38,656.80 265.82,656.80 262.60,653.58 262.60,649.02 265.82,645.80 270.38,645.80 273.60,649.02" fill="#0a0af0"/>
<path d="M238.40 660.50H205.60M214.80 652.20L205.60 660.50L214.80 668.80" stroke="#0a0af0" stroke-width="1.25" fill="none"/>
<polygon points="243.90,662.78 240.68,666.00 236.12,666.00 232.90,662.78 232.90,658.22 236.12,655.00 240.68,655.00 243.90,658.22" fill="#0a0af0"/>
<path d="M252.40 665.50H219.50M228.70 657.20L219.50 665.50L228.70 673.80" stroke="#0a0af0" stroke-width="1.25" fill="none"/>
<polygon points="257.90,667.78 254.68,671.00 250.12,671.00 246.90,667.78 246.90,663.22 250.12,660.00 254.68,660.00 257.90,663.22" fill="#0a0af0"/>
<path d="M200.50 617.60H166.80M176.00 609.30L166.80 617.60L176.00 625.90" stroke="#0a0af0" stroke-width="1.25" fill="none"/>
<polygon points="206.00,619.88 202.78,623.10 198.22,623.10 195.00,619.88 195.00,615.32 198.22,612.10 202.78,612.10 206.00,615.32" fill="#0a0af0"/>
<path d="M170.40 674.90H211.00M170.40 670.60V679.20M211.00 670.60V679.20" stroke="#0a0af0" stroke-width="1.25" fill="none"/>
<polygon points="196.20,677.18 192.98,680.40 188.42,680.40 185.20,677.18 185.20,672.62 188.42,669.40 192.98,669.40 196.20,672.62" fill="#0a0af0"/>
<path d="M230.40 689.30H197.40M206.60 681.00L197.40 689.30L206.60 697.60" stroke="#0a0af0" stroke-width="1.25" fill="none"/>
<polygon points="235.90,691.58 232.68,694.80 228.12,694.80 224.90,691.58 224.90,687.02 228.12,683.80 232.68,683.80 235.90,687.02" fill="#0a0af0"/>
<path d="M182.70 703.20H149.70M158.90 694.90L149.70 703.20L158.90 711.50" stroke="#0a0af0" stroke-width="1.25" fill="none"/>
<polygon points="188.20,705.48 184.98,708.70 180.42,708.70 177.20,705.48 177.20,700.92 180.42,697.70 184.98,697.70 188.20,700.92" fill="#0a0af0"/>
</g>
<clipPath id="c4"><rect x="677.60" y="431.00" width="478.90" height="310.90"/></clipPath><g clip-path="url(#c4)">
<line x1="772.1" y1="652.9" x2="1108.6" y2="468.9" stroke="#000" stroke-width="1.5"/>
<path d="M1125.50 469.30H1145.70M1125.50 465.00V473.60M1145.70 465.00V473.60" stroke="#000" stroke-width="1.25" fill="none"/>
<polygon points="1141.10,471.58 1137.88,474.80 1133.32,474.80 1130.10,471.58 1130.10,467.02 1133.32,463.80 1137.88,463.80 1141.10,467.02" fill="#000"/>
<path d="M1080.60 513.00H1100.80M1080.60 508.70V517.30M1100.80 508.70V517.30" stroke="#000" stroke-width="1.25" fill="none"/>
<polygon points="1096.20,515.28 1092.98,518.50 1088.42,518.50 1085.20,515.28 1085.20,510.72 1088.42,507.50 1092.98,507.50 1096.20,510.72" fill="#000"/>
<path d="M1022.00 501.40H1041.50M1022.00 497.10V505.70M1041.50 497.10V505.70" stroke="#000" stroke-width="1.25" fill="none"/>
<polygon points="1036.90,503.68 1033.68,506.90 1029.12,506.90 1025.90,503.68 1025.90,499.12 1029.12,495.90 1033.68,495.90 1036.90,499.12" fill="#000"/>
<path d="M1014.00 540.30H1033.30M1014.00 536.00V544.60M1033.30 536.00V544.60" stroke="#000" stroke-width="1.25" fill="none"/>
<polygon points="1029.20,542.58 1025.98,545.80 1021.42,545.80 1018.20,542.58 1018.20,538.02 1021.42,534.80 1025.98,534.80 1029.20,538.02" fill="#000"/>
<path d="M922.00 540.90H938.00M922.00 536.60V545.20M938.00 536.60V545.20" stroke="#000" stroke-width="1.25" fill="none"/>
<polygon points="935.50,543.18 932.28,546.40 927.72,546.40 924.50,543.18 924.50,538.62 927.72,535.40 932.28,535.40 935.50,538.62" fill="#000"/>
<polygon points="968.00,543.18 964.78,546.40 960.22,546.40 957.00,543.18 957.00,538.62 960.22,535.40 964.78,535.40 968.00,538.62" fill="#000"/>
<path d="M884.00 548.40H904.00M884.00 544.10V552.70M904.00 544.10V552.70" stroke="#000" stroke-width="1.25" fill="none"/>
<polygon points="900.50,550.68 897.28,553.90 892.72,553.90 889.50,550.68 889.50,546.12 892.72,542.90 897.28,542.90 900.50,546.12" fill="#000"/>
<polygon points="910.50,550.68 907.28,553.90 902.72,553.90 899.50,550.68 899.50,546.12 902.72,542.90 907.28,542.90 910.50,546.12" fill="#000"/>
<path d="M904.00 548.40H922.00M904.00 544.10V552.70M922.00 544.10V552.70" stroke="#000" stroke-width="1.25" fill="none"/>
<polygon points="918.50,550.68 915.28,553.90 910.72,553.90 907.50,550.68 907.50,546.12 910.72,542.90 915.28,542.90 918.50,546.12" fill="#000"/>
<path d="M943.00 558.30H961.00M943.00 554.00V562.60M961.00 554.00V562.60" stroke="#000" stroke-width="1.25" fill="none"/>
<polygon points="957.90,560.58 954.68,563.80 950.12,563.80 946.90,560.58 946.90,556.02 950.12,552.80 954.68,552.80 957.90,556.02" fill="#000"/>
<path d="M962.90 558.80H986.00M962.90 554.50V563.10M986.00 554.50V563.10" stroke="#000" stroke-width="1.25" fill="none"/>
<polygon points="981.00,561.08 977.78,564.30 973.22,564.30 970.00,561.08 970.00,556.52 973.22,553.30 977.78,553.30 981.00,556.52" fill="#000"/>
<path d="M946.90 583.90H974.40M946.90 579.60V588.20M974.40 579.60V588.20" stroke="#000" stroke-width="1.25" fill="none"/>
<polygon points="966.80,586.18 963.58,589.40 959.02,589.40 955.80,586.18 955.80,581.62 959.02,578.40 963.58,578.40 966.80,581.62" fill="#000"/>
<path d="M978.80 588.60H998.40M978.80 584.30V592.90M998.40 584.30V592.90" stroke="#000" stroke-width="1.25" fill="none"/>
<polygon points="993.90,590.88 990.68,594.10 986.12,594.10 982.90,590.88 982.90,586.32 986.12,583.10 990.68,583.10 993.90,586.32" fill="#000"/>
<polygon points="902.40,600.68 899.18,603.90 894.62,603.90 891.40,600.68 891.40,596.12 894.62,592.90 899.18,592.90 902.40,596.12" fill="#000"/>
<path d="M918.60 622.20H938.20M918.60 617.90V626.50M938.20 617.90V626.50" stroke="#000" stroke-width="1.25" fill="none"/>
<polygon points="933.50,624.48 930.28,627.70 925.72,627.70 922.50,624.48 922.50,619.92 925.72,616.70 930.28,616.70 933.50,619.92" fill="#000"/>
<path d="M842.20 651.20H862.50M842.20 646.90V655.50M862.50 646.90V655.50" stroke="#000" stroke-width="1.25" fill="none"/>
<polygon points="857.20,653.48 853.98,656.70 849.42,656.70 846.20,653.48 846.20,648.92 849.42,645.70 853.98,645.70 857.20,648.92" fill="#000"/>
<path d="M760.30 631.80H727.30M736.50 623.50L727.30 631.80L736.50 640.10" stroke="#000" stroke-width="1.25" fill="none"/>
<polygon points="765.80,634.08 762.58,637.30 758.02,637.30 754.80,634.08 754.80,629.52 758.02,626.30 762.58,626.30 765.80,629.52" fill="#000"/>
<path d="M798.00 684.50H820.00M798.00 680.20V688.80M820.00 680.20V688.80" stroke="#000" stroke-width="1.25" fill="none"/>
<polygon points="814.50,686.78 811.28,690.00 806.72,690.00 803.50,686.78 803.50,682.22 806.72,679.00 811.28,679.00 814.50,682.22" fill="#000"/>
<path d="M1062.80 488.40H1083.80M1062.80 484.10V492.70M1083.80 484.10V492.70" stroke="#0a0af0" stroke-width="1.25" fill="none"/>
<polygon points="1078.70,490.68 1075.48,493.90 1070.92,493.90 1067.70,490.68 1067.70,486.12 1070.92,482.90 1075.48,482.90 1078.70,486.12" fill="#0a0af0"/>
<path d="M1017.60 479.00H1058.20M1017.60 474.70V483.30M1058.20 474.70V483.30" stroke="#0a0af0" stroke-width="1.25" fill="none"/>
<polygon points="1043.40,481.28 1040.18,484.50 1035.62,484.50 1032.40,481.28 1032.40,476.72 1035.62,473.50 1040.18,473.50 1043.40,476.72" fill="#0a0af0"/>
<path d="M995.90 488.40H1027.00M995.90 484.10V492.70M1027.00 484.10V492.70" stroke="#0a0af0" stroke-width="1.25" fill="none"/>
<polygon points="1016.60,490.68 1013.38,493.90 1008.82,493.90 1005.60,490.68 1005.60,486.12 1008.82,482.90 1013.38,482.90 1016.60,486.12" fill="#0a0af0"/>
<path d="M993.00 493.30H957.00M966.20 485.00L957.00 493.30L966.20 501.60" stroke="#0a0af0" stroke-width="1.25" fill="none"/>
<polygon points="998.50,495.58 995.28,498.80 990.72,498.80 987.50,495.58 987.50,491.02 990.72,487.80 995.28,487.80 998.50,491.02" fill="#0a0af0"/>
<path d="M988.80 498.00H956.00M965.20 489.70L956.00 498.00L965.20 506.30" stroke="#0a0af0" stroke-width="1.25" fill="none"/>
<polygon points="994.30,500.28 991.08,503.50 986.52,503.50 983.30,500.28 983.30,495.72 986.52,492.50 991.08,492.50 994.30,495.72" fill="#0a0af0"/>
<path d="M995.00 497.80H1020.50M995.00 493.50V502.10M1020.50 493.50V502.10" stroke="#0a0af0" stroke-width="1.25" fill="none"/>
<polygon points="1013.00,500.08 1009.78,503.30 1005.22,503.30 1002.00,500.08 1002.00,495.52 1005.22,492.30 1009.78,492.30 1013.00,495.52" fill="#0a0af0"/>
<path d="M971.90 517.20H998.00M971.90 512.90V521.50M998.00 512.90V521.50" stroke="#0a0af0" stroke-width="1.25" fill="none"/>
<polygon points="989.70,519.48 986.48,522.70 981.92,522.70 978.70,519.48 978.70,514.92 981.92,511.70 986.48,511.70 989.70,514.92" fill="#0a0af0"/>
<path d="M1022.00 507.20H1048.00M1022.00 502.90V511.50M1048.00 502.90V511.50" stroke="#0a0af0" stroke-width="1.25" fill="none"/>
<polygon points="1040.50,509.48 1037.28,512.70 1032.72,512.70 1029.50,509.48 1029.50,504.92 1032.72,501.70 1037.28,501.70 1040.50,504.92" fill="#0a0af0"/>
<path d="M1035.00 512.20H1003.90M1013.10 503.90L1003.90 512.20L1013.10 520.50" stroke="#0a0af0" stroke-width="1.25" fill="none"/>
<polygon points="1040.50,514.48 1037.28,517.70 1032.72,517.70 1029.50,514.48 1029.50,509.92 1032.72,506.70 1037.28,506.70 1040.50,509.92" fill="#0a0af0"/>
<path d="M936.50 512.00H984.00M936.50 507.70V516.30M984.00 507.70V516.30" stroke="#0a0af0" stroke-width="1.25" fill="none"/>
<polygon points="965.80,514.28 962.58,517.50 958.02,517.50 954.80,514.28 954.80,509.72 958.02,506.50 962.58,506.50 965.80,509.72" fill="#0a0af0"/>
<path d="M939.40 530.80H906.40M915.60 522.50L906.40 530.80L915.60 539.10" stroke="#0a0af0" stroke-width="1.25" fill="none"/>
<polygon points="944.90,533.08 941.68,536.30 937.12,536.30 933.90,533.08 933.90,528.52 937.12,525.30 941.68,525.30 944.90,528.52" fill="#0a0af0"/>
<polygon points="943.40,543.18 940.18,546.40 935.62,546.40 932.40,543.18 932.40,538.62 935.62,535.40 940.18,535.40 943.40,538.62" fill="#0a0af0"/>
<polygon points="962.20,543.18 958.98,546.40 954.42,546.40 951.20,543.18 951.20,538.62 954.42,535.40 958.98,535.40 962.20,538.62" fill="#0a0af0"/>
<polygon points="976.70,543.18 973.48,546.40 968.92,546.40 965.70,543.18 965.70,538.62 968.92,535.40 973.48,535.40 976.70,538.62" fill="#0a0af0"/>
<polygon points="943.40,551.88 940.18,555.10 935.62,555.10 932.40,551.88 932.40,547.32 935.62,544.10 940.18,544.10 943.40,547.32" fill="#0a0af0"/>
<polygon points="972.40,551.88 969.18,555.10 964.62,555.10 961.40,551.88 961.40,547.32 964.62,544.10 969.18,544.10 972.40,547.32" fill="#0a0af0"/>
<path d="M1019.50 537.00H987.00M996.20 528.70L987.00 537.00L996.20 545.30" stroke="#0a0af0" stroke-width="1.25" fill="none"/>
<polygon points="1025.00,539.28 1021.78,542.50 1017.22,542.50 1014.00,539.28 1014.00,534.72 1017.22,531.50 1021.78,531.50 1025.00,534.72" fill="#0a0af0"/>
<path d="M1019.80 542.00H987.00M996.20 533.70L987.00 542.00L996.20 550.30" stroke="#0a0af0" stroke-width="1.25" fill="none"/>
<polygon points="1025.30,544.28 1022.08,547.50 1017.52,547.50 1014.30,544.28 1014.30,539.72 1017.52,536.50 1022.08,536.50 1025.30,539.72" fill="#0a0af0"/>
<path d="M923.40 556.10H890.40M899.60 547.80L890.40 556.10L899.60 564.40" stroke="#0a0af0" stroke-width="1.25" fill="none"/>
<polygon points="928.90,558.38 925.68,561.60 921.12,561.60 917.90,558.38 917.90,553.82 921.12,550.60 925.68,550.60 928.90,553.82" fill="#0a0af0"/>
<path d="M933.60 564.30H901.00M910.20 556.00L901.00 564.30L910.20 572.60" stroke="#0a0af0" stroke-width="1.25" fill="none"/>
<polygon points="939.10,566.58 935.88,569.80 931.32,569.80 928.10,566.58 928.10,562.02 931.32,558.80 935.88,558.80 939.10,562.02" fill="#0a0af0"/>
<polygon points="932.50,567.78 929.28,571.00 924.72,571.00 921.50,567.78 921.50,563.22 924.72,560.00 929.28,560.00 932.50,563.22" fill="#0a0af0"/>
<polygon points="956.40,567.08 953.18,570.30 948.62,570.30 945.40,567.08 945.40,562.52 948.62,559.30 953.18,559.30 956.40,562.52" fill="#0a0af0"/>
<path d="M952.60 578.80H919.60M928.80 570.50L919.60 578.80L928.80 587.10" stroke="#0a0af0" stroke-width="1.25" fill="none"/>
<polygon points="958.10,581.08 954.88,584.30 950.32,584.30 947.10,581.08 947.10,576.52 950.32,573.30 954.88,573.30 958.10,576.52" fill="#0a0af0"/>
<path d="M958.40 578.80H925.00M934.20 570.50L925.00 578.80L934.20 587.10" stroke="#0a0af0" stroke-width="1.25" fill="none"/>
<polygon points="963.90,581.08 960.68,584.30 956.12,584.30 952.90,581.08 952.90,576.52 956.12,573.30 960.68,573.30 963.90,576.52" fill="#0a0af0"/>
<path d="M900.50 574.50H867.20M876.40 566.20L867.20 574.50L876.40 582.80" stroke="#0a0af0" stroke-width="1.25" fill="none"/>
<polygon points="906.00,576.78 902.78,580.00 898.22,580.00 895.00,576.78 895.00,572.22 898.22,569.00 902.78,569.00 906.00,572.22" fill="#0a0af0"/>
<polygon points="939.10,576.48 935.88,579.70 931.32,579.70 928.10,576.48 928.10,571.92 931.32,568.70 935.88,568.70 939.10,571.92" fill="#0a0af0"/>
<polygon points="893.70,600.68 890.48,603.90 885.92,603.90 882.70,600.68 882.70,596.12 885.92,592.90 890.48,592.90 893.70,596.12" fill="#0a0af0"/>
<path d="M909.20 603.40H877.40M886.60 595.10L877.40 603.40L886.60 611.70" stroke="#0a0af0" stroke-width="1.25" fill="none"/>
<polygon points="914.70,605.68 911.48,608.90 906.92,608.90 903.70,605.68 903.70,601.12 906.92,597.90 911.48,597.90 914.70,601.12" fill="#0a0af0"/>
<polygon points="876.40,610.08 873.18,613.30 868.62,613.30 865.40,610.08 865.40,605.52 868.62,602.30 873.18,602.30 876.40,605.52" fill="#0a0af0"/>
<path d="M855.30 617.90H880.30M855.30 613.60V622.20M880.30 613.60V622.20" stroke="#0a0af0" stroke-width="1.25" fill="none"/>
<polygon points="873.50,620.18 870.28,623.40 865.72,623.40 862.50,620.18 862.50,615.62 865.72,612.40 870.28,612.40 873.50,615.62" fill="#0a0af0"/>
<path d="M819.20 559.80H860.70M819.20 555.50V564.10M860.70 555.50V564.10" stroke="#0a0af0" stroke-width="1.25" fill="none"/>
<polygon points="845.50,562.08 842.28,565.30 837.72,565.30 834.50,562.08 834.50,557.52 837.72,554.30 842.28,554.30 845.50,557.52" fill="#0a0af0"/>
<path d="M858.80 569.40H825.50M834.70 561.10L825.50 569.40L834.70 577.70" stroke="#0a0af0" stroke-width="1.25" fill="none"/>
<polygon points="864.30,571.68 861.08,574.90 856.52,574.90 853.30,571.68 853.30,567.12 856.52,563.90 861.08,563.90 864.30,567.12" fill="#0a0af0"/>
<path d="M842.90 593.60H810.10M819.30 585.30L810.10 593.60L819.30 601.90" stroke="#0a0af0" stroke-width="1.25" fill="none"/>
<polygon points="848.40,595.88 845.18,599.10 840.62,599.10 837.40,595.88 837.40,591.32 840.62,588.10 845.18,588.10 848.40,591.32" fill="#0a0af0"/>
<path d="M856.90 602.70H824.00M833.20 594.40L824.00 602.70L833.20 611.00" stroke="#0a0af0" stroke-width="1.25" fill="none"/>
<polygon points="862.40,604.98 859.18,608.20 854.62,608.20 851.40,604.98 851.40,600.42 854.62,597.20 859.18,597.20 862.40,600.42" fill="#0a0af0"/>
<path d="M851.60 607.60H819.20M828.40 599.30L819.20 607.60L828.40 615.90" stroke="#0a0af0" stroke-width="1.25" fill="none"/>
<polygon points="857.10,609.88 853.88,613.10 849.32,613.10 846.10,609.88 846.10,605.32 849.32,602.10 853.88,602.10 857.10,605.32" fill="#0a0af0"/>
<path d="M834.20 612.40H801.00M810.20 604.10L801.00 612.40L810.20 620.70" stroke="#0a0af0" stroke-width="1.25" fill="none"/>
<polygon points="839.70,614.68 836.48,617.90 831.92,617.90 828.70,614.68 828.70,610.12 831.92,606.90 836.48,606.90 839.70,610.12" fill="#0a0af0"/>
<path d="M793.60 616.30H818.30M793.60 612.00V620.60M818.30 612.00V620.60" stroke="#0a0af0" stroke-width="1.25" fill="none"/>
<polygon points="811.70,618.58 808.48,621.80 803.92,621.80 800.70,618.58 800.70,614.02 803.92,610.80 808.48,610.80 811.70,614.02" fill="#0a0af0"/>
<path d="M831.40 631.70H798.40M807.60 623.40L798.40 631.70L807.60 640.00" stroke="#0a0af0" stroke-width="1.25" fill="none"/>
<polygon points="836.90,633.98 833.68,637.20 829.12,637.20 825.90,633.98 825.90,629.42 829.12,626.20 833.68,626.20 836.90,629.42" fill="#0a0af0"/>
<path d="M806.70 636.90H786.50M795.70 628.60L786.50 636.90L795.70 645.20" stroke="#0a0af0" stroke-width="1.25" fill="none"/>
<polygon points="812.20,639.18 808.98,642.40 804.42,642.40 801.20,639.18 801.20,634.62 804.42,631.40 808.98,631.40 812.20,634.62" fill="#0a0af0"/>
<path d="M817.70 642.00H785.00M794.20 633.70L785.00 642.00L794.20 650.30" stroke="#0a0af0" stroke-width="1.25" fill="none"/>
<polygon points="823.20,644.28 819.98,647.50 815.42,647.50 812.20,644.28 812.20,639.72 815.42,636.50 819.98,636.50 823.20,639.72" fill="#0a0af0"/>
<path d="M835.70 651.20H803.20M812.40 642.90L803.20 651.20L812.40 659.50" stroke="#0a0af0" stroke-width="1.25" fill="none"/>
<polygon points="841.20,653.48 837.98,656.70 833.42,656.70 830.20,653.48 830.20,648.92 833.42,645.70 837.98,645.70 841.20,648.92" fill="#0a0af0"/>
<path d="M797.40 660.50H764.90M774.10 652.20L764.90 660.50L774.10 668.80" stroke="#0a0af0" stroke-width="1.25" fill="none"/>
<polygon points="802.90,662.78 799.68,666.00 795.12,666.00 791.90,662.78 791.90,658.22 795.12,655.00 799.68,655.00 802.90,658.22" fill="#0a0af0"/>
<path d="M759.80 666.00H796.60M759.80 661.70V670.30M796.60 661.70V670.30" stroke="#0a0af0" stroke-width="1.25" fill="none"/>
<polygon points="783.90,668.28 780.68,671.50 776.12,671.50 772.90,668.28 772.90,663.72 776.12,660.50 780.68,660.50 783.90,663.72" fill="#0a0af0"/>
<path d="M737.00 675.00H704.20M713.40 666.70L704.20 675.00L713.40 683.30" stroke="#0a0af0" stroke-width="1.25" fill="none"/>
<polygon points="742.50,677.28 739.28,680.50 734.72,680.50 731.50,677.28 731.50,672.72 734.72,669.50 739.28,669.50 742.50,672.72" fill="#0a0af0"/>
<path d="M785.50 689.00H753.00M762.20 680.70L753.00 689.00L762.20 697.30" stroke="#0a0af0" stroke-width="1.25" fill="none"/>
<polygon points="791.00,691.28 787.78,694.50 783.22,694.50 780.00,691.28 780.00,686.72 783.22,683.50 787.78,683.50 791.00,686.72" fill="#0a0af0"/>
<path d="M752.20 703.50H719.00M728.20 695.20L719.00 703.50L728.20 711.80" stroke="#0a0af0" stroke-width="1.25" fill="none"/>
<polygon points="757.70,705.78 754.48,709.00 749.92,709.00 746.70,705.78 746.70,701.22 749.92,698.00 754.48,698.00 757.70,701.22" fill="#0a0af0"/>
</g>
</svg>
</body></html>
